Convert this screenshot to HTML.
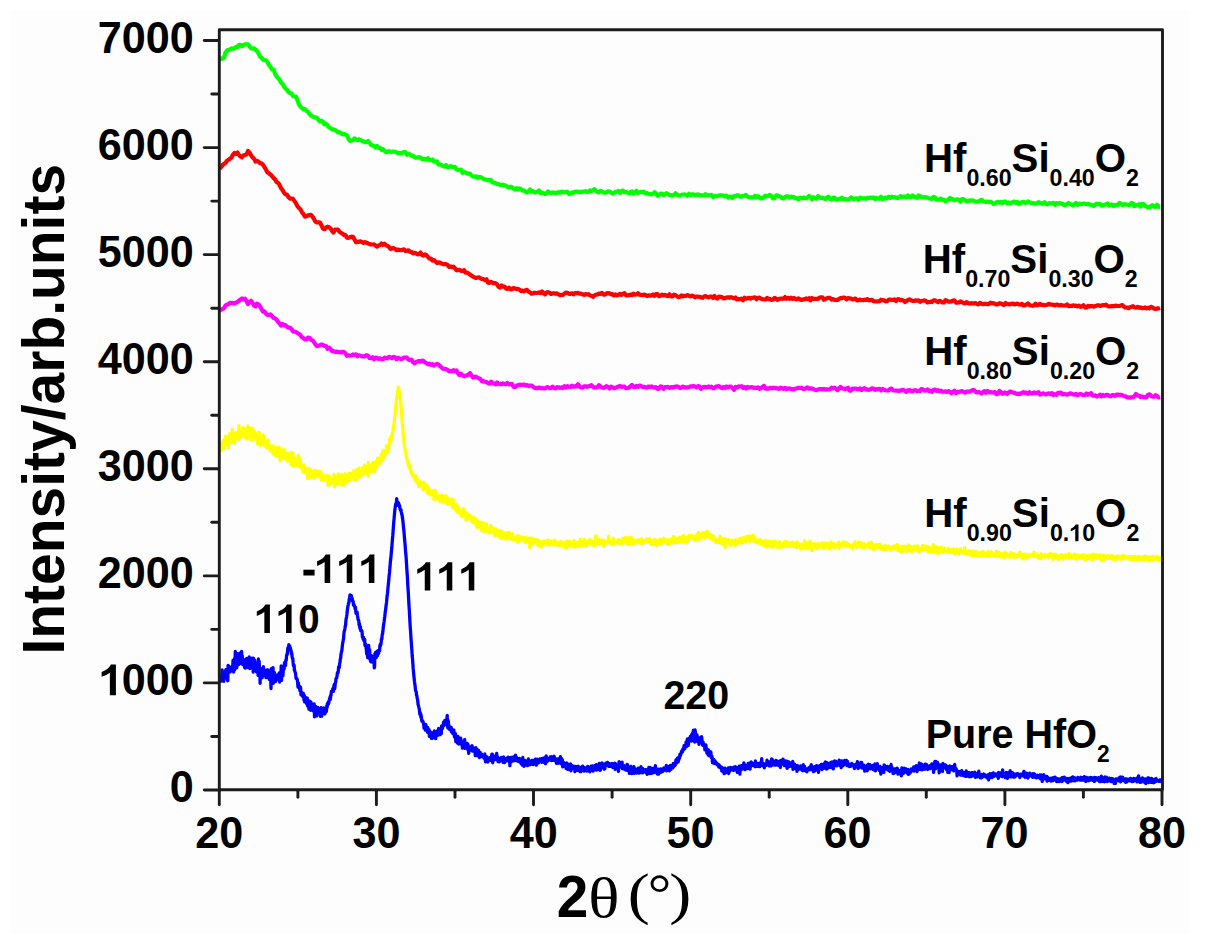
<!DOCTYPE html>
<html><head><meta charset="utf-8"><style>
html,body{margin:0;padding:0;background:#fff;}
body{width:1208px;height:947px;overflow:hidden;}
svg{display:block;}
text{font-family:"Liberation Sans",sans-serif;font-weight:bold;fill:#000;}
</style></head><body>
<svg width="1208" height="947" viewBox="0 0 1208 947">
<rect x="0" y="0" width="1208" height="947" fill="#ffffff"/>
<rect x="10" y="11" width="1180" height="922" fill="#fdfdfd"/>
<g fill="none" stroke-linejoin="round">
<path d="M219.5 57.1l1.5 1.8 1.5 -0.2 1.5 -0.9 1.5 -5.1 1.5 -2.2 1.5 -0.7 1.5 -0.1 1.5 -1.3 1.5 0.3 1.5 -0.6 1.5 -1.2 1.5 0.1 1.5 -2.1 1.5 -0.1 1.5 1.4 1.5 -1.3 1.5 -0.6 1.5 0 1.5 0.1 1.5 1.9 1.5 2 1.5 0.4 1.5 -0.4 1.5 1.4 1.5 1.2 1.5 2.7 1.5 2.8 1.5 1.4 1.5 2 1.5 0.3 1.5 0.2 1.5 1.9 1.5 2.8 1.5 2 1.5 2.5 1.5 0.1 1.5 4 1.5 2.6 1.5 2 1.5 1.1 1.5 3.2 1.5 1.3 1.5 2.8 1.5 1.9 1.5 1.3 1.5 2.2 1.5 1.2 1.5 0.1 1.5 2.7 1.5 0.6 1.5 -0.1 1.5 3.8 1.5 4.2 1.5 2 1.5 1.7 1.5 1.2 1.5 -0.2 1.5 1.8 1.5 0.9 1.5 2 1.5 1.7 1.5 0.7 1.5 1 1.5 0 1.5 0.6 1.5 2.1 1.5 1.3 1.5 -0.6 1.5 1.1 1.5 2.5 1.5 -0.6 1.5 1.4 1.5 2.2 1.5 1 1.5 0.9 1.5 0.2 1.5 0.6 1.5 1 1.5 1.3 1.5 -0.2 1.5 1.1 1.5 1.2 1.5 -0.6 1.5 0.9 1.5 0.7 1.5 3.3 1.5 2.2 1.5 -0.5 1.5 -0.2 1.5 -1.7 1.5 0.7 1.5 0.9 1.5 -0.9 1.5 0.9 1.5 1 1.5 0.2 1.5 0.9 1.5 -0.1 1.5 -1.1 1.5 1.6 1.5 2.2 1.5 0.4 1.5 0.9 1.5 1.4 1.5 -1.5 1.5 1.9 1.5 -0.2 1.5 2.2 1.5 -0.8 1.5 1.7 1.5 1.4 1.5 -0.5 1.5 -0.5 1.5 0.6 1.5 0 1.5 -0.3 1.5 0.4 1.5 0.3 1.5 1.1 1.5 -0.5 1.5 0.3 1.5 -0.4 1.5 -0.7 1.5 0.4 1.5 2.3 1.5 -1 1.5 0.9 1.5 1.2 1.5 -0.2 1.5 1.6 1.5 0.4 1.5 -0.3 1.5 0.1 1.5 0 1.5 1.5 1.5 0.2 1.5 -0.2 1.5 0.8 1.5 -1.5 1.5 1.9 1.5 0.1 1.5 -0.7 1.5 2.1 1.5 0.1 1.5 -0.4 1.5 3.2 1.5 -0.1 1.5 0.5 1.5 1 1.5 0.6 1.5 -1.5 1.5 1.9 1.5 -0.1 1.5 -0.7 1.5 1 1.5 -0.3 1.5 0.3 1.5 2.3 1.5 0.6 1.5 0 1.5 -0.3 1.5 3.1 1.5 -0.9 1.5 0.5 1.5 1.2 1.5 0.1 1.5 0 1.5 1.7 1.5 1.1 1.5 0.2 1.5 -0.4 1.5 1.6 1.5 -0.8 1.5 0.1 1.5 0.6 1.5 1.1 1.5 0.7 1.5 0 1.5 0.8 1.5 -0.4 1.5 0.2 1.5 2.3 1.5 0.2 1.5 0.4 1.5 0.8 1.5 0.1 1.5 0.8 1.5 0.1 1.5 0 1.5 0.4 1.5 0.4 1.5 1.3 1.5 0.4 1.5 -0.7 1.5 0.6 1.5 1.5 1.5 0.5 1.5 -1.1 1.5 1.3 1.5 -1.1 1.5 0.7 1.5 1.5 1.5 -0.2 1.5 1.1 1.5 1.1 1.5 -1.1 1.5 -2 1.5 2.2 1.5 -0.6 1.5 1.4 1.5 -0.3 1.5 -0.5 1.5 -1.3 1.5 2.5 1.5 -0.2 1.5 0.5 1.5 0.8 1.5 -0.3 1.5 -2.3 1.5 1.2 1.5 0.4 1.5 -0.5 1.5 0 1.5 0.7 1.5 -0.6 1.5 -0.4 1.5 0.4 1.5 -0.9 1.5 0.1 1.5 0.7 1.5 -0.5 1.5 -0.1 1.5 2.1 1.5 -0.3 1.5 -1.3 1.5 0.2 1.5 -0.9 1.5 -0.1 1.5 0.5 1.5 -0.4 1.5 0.6 1.5 -0.8 1.5 0.2 1.5 -0.6 1.5 0.8 1.5 -0.1 1.5 -1.4 1.5 0.6 1.5 -0.8 1.5 -1.1 1.5 2 1.5 1 1.5 0.3 1.5 -1.6 1.5 0.8 1.5 0.8 1.5 0.3 1.5 -0.4 1.5 -1 1.5 0.2 1.5 1 1.5 0.9 1.5 -0.5 1.5 -1.1 1.5 -0.1 1.5 -0.7 1.5 1.8 1.5 -1.8 1.5 -0.4 1.5 1.6 1.5 -0.3 1.5 0.8 1.5 0.7 1.5 -1.5 1.5 -0.5 1.5 2 1.5 -1.3 1.5 -1.3 1.5 2.4 1.5 -0.8 1.5 -0.6 1.5 0.3 1.5 -0.4 1.5 1.6 1.5 -0.1 1.5 0.5 1.5 0.3 1.5 0.5 1.5 -0.8 1.5 -1.5 1.5 1 1.5 2.5 1.5 -1 1.5 -0.8 1.5 -0.4 1.5 1.6 1.5 -0.9 1.5 -1 1.5 1 1.5 0.8 1.5 0.2 1.5 0.2 1.5 -0.4 1.5 -1.7 1.5 1.1 1.5 1 1.5 0.1 1.5 -0.7 1.5 -0.3 1.5 -0.1 1.5 0.3 1.5 1 1.5 -1.9 1.5 1.3 1.5 -0.7 1.5 -0.1 1.5 0.8 1.5 -0.4 1.5 -0.3 1.5 0.7 1.5 0.3 1.5 0 1.5 0 1.5 -1.3 1.5 1.2 1.5 0 1.5 -0.3 1.5 -0.1 1.5 2.1 1.5 -1.2 1.5 0.4 1.5 -0.3 1.5 -0.5 1.5 -0.1 1.5 0.1 1.5 0.1 1.5 1.1 1.5 -1 1.5 1.9 1.5 -1 1.5 0.1 1.5 1.4 1.5 -1.9 1.5 0.2 1.5 -0.9 1.5 0 1.5 1.3 1.5 -0.1 1.5 -0.7 1.5 -0.2 1.5 -0.7 1.5 1.6 1.5 0.7 1.5 0 1.5 0.1 1.5 -0.3 1.5 -1.3 1.5 1.7 1.5 -1.3 1.5 1.3 1.5 1 1.5 -0.4 1.5 -1 1.5 -1.5 1.5 0.7 1.5 -0.5 1.5 -1 1.5 1.3 1.5 2.2 1.5 -0.2 1.5 -2.5 1.5 -0.2 1.5 0.9 1.5 0.3 1.5 1.5 1.5 0.5 1.5 -1.6 1.5 -0.6 1.5 0 1.5 1.3 1.5 -1.1 1.5 0.3 1.5 0.2 1.5 1.3 1.5 -0.2 1.5 0.9 1.5 -1.4 1.5 0.8 1.5 -0.7 1.5 -0.2 1.5 0.7 1.5 -0.8 1.5 -1.5 1.5 1.1 1.5 2.1 1.5 -2 1.5 1.1 1.5 0.3 1.5 -2.5 1.5 1.2 1.5 0.7 1.5 -0.5 1.5 1 1.5 0.6 1.5 -1.5 1.5 -0.9 1.5 2.2 1.5 0.7 1.5 -1.7 1.5 -0.3 1.5 1.9 1.5 0.1 1.5 -0.8 1.5 0.1 1.5 -1.2 1.5 1.5 1.5 -0.2 1.5 0.3 1.5 0.2 1.5 -0.7 1.5 -1.3 1.5 1 1.5 0.8 1.5 -1 1.5 0 1.5 1.4 1.5 -2 1.5 0.4 1.5 0.4 1.5 -0.2 1.5 0.6 1.5 -1.1 1.5 0.1 1.5 -0.4 1.5 0.6 1.5 -0.6 1.5 1.6 1.5 -1.2 1.5 0.5 1.5 0.4 1.5 -2.1 1.5 2.4 1.5 -0.6 1.5 -0.8 1.5 0.6 1.5 -1.5 1.5 1.1 1.5 -1.3 1.5 0.6 1.5 0 1.5 0.4 1.5 0.4 1.5 -0.7 1.5 -1.2 1.5 0.9 1.5 -0.5 1.5 0.2 1.5 0.6 1.5 -1.8 1.5 1.7 1.5 -0.1 1.5 -1.7 1.5 1.4 1.5 0.5 1.5 0.5 1.5 -2.3 1.5 0.5 1.5 1.2 1.5 0.1 1.5 -0.3 1.5 0.3 1.5 0.3 1.5 0.6 1.5 0.4 1.5 0.2 1.5 -2 1.5 0.7 1.5 2.2 1.5 -0.1 1.5 -0.1 1.5 -0.9 1.5 1.5 1.5 -0.4 1.5 1.5 1.5 -0.6 1.5 -1.3 1.5 -1.4 1.5 1.4 1.5 -0.1 1.5 1.2 1.5 -0.6 1.5 -0.4 1.5 0.4 1.5 1.9 1.5 -2.7 1.5 0.1 1.5 1.1 1.5 1.2 1.5 -0.4 1.5 -0.6 1.5 0.3 1.5 -0.4 1.5 0.7 1.5 0.6 1.5 -0.1 1.5 0.1 1.5 -1.1 1.5 -0.7 1.5 1.6 1.5 0.1 1.5 0.4 1.5 -0.4 1.5 0.7 1.5 -0.5 1.5 0.8 1.5 1.3 1.5 -0.1 1.5 -1.5 1.5 -0.3 1.5 0.7 1.5 -0.8 1.5 1.2 1.5 -1.4 1.5 0.1 1.5 1.7 1.5 -1 1.5 1 1.5 -0.9 1.5 -0.4 1.5 -0.5 1.5 1.4 1.5 -1 1.5 1.9 1.5 -0.8 1.5 -1 1.5 -0.3 1.5 1.1 1.5 -0.2 1.5 -1.3 1.5 0.9 1.5 0.6 1.5 0.2 1.5 0.2 1.5 0.4 1.5 -0.4 1.5 -1.1 1.5 0.8 1.5 0.3 1.5 0.6 1.5 -1.6 1.5 1.5 1.5 0.5 1.5 -1.1 1.5 0.1 1.5 0 1.5 -0.5 1.5 2 1.5 -1.6 1.5 0.3 1.5 -0.6 1.5 0.9 1.5 -0.2 1.5 1.5 1.5 -0.2 1.5 -0.8 1.5 -1.1 1.5 0.8 1.5 0.9 1.5 0.7 1.5 -1.5 1.5 -1 1.5 1.8 1.5 -1.1 1.5 0.3 1.5 0.1 1.5 -0.5 1.5 0.4 1.5 0.3 1.5 -0.3 1.5 0.7 1.5 -0.1 1.5 1.1 1.5 0.2 1.5 -1.6 1.5 -0.5 1.5 0.6 1.5 -0.4 1.5 1.8 1.5 -0.3 1.5 -0.7 1.5 -0.4 1.5 -0.8 1.5 2.1 1.5 -1 1.5 -0.1 1.5 1.5 1.5 -1.1 1.5 0.2 1.5 -0.2 1.5 -2.1 1.5 0.8 1.5 1.5 1.5 -0.9 1.5 0.1 1.5 0.2 1.5 0.4 1.5 -0.3 1.5 -1.7 1.5 0.6 1.5 2.7 1.5 -1.1 1.5 0.1 1.5 -1 1.5 2.3 1.5 -2.6 1.5 0.1 1.5 1.8 1.5 0.7 1.5 1 1.5 -0.1 1.5 -1.3 1.5 -0.9 1.5 1.4 1.5 0.2 1.5 -2.1 1.5 2.1 1.5 -0.1" stroke="#00ff00" stroke-width="4.2"/>
<path d="M219.5 168.7l1.5 -1.4 1.5 -2.1 1.5 -1.3 1.5 -0.9 1.5 -2.3 1.5 -0.9 1.5 -1.2 1.5 -1.1 1.5 -2.9 1.5 -1.6 1.5 0.8 1.5 -1.3 1.5 2.5 1.5 1.5 1.5 0.9 1.5 -2.1 1.5 -0.3 1.5 -0.7 1.5 -3.3 1.5 1.5 1.5 2.6 1.5 2.3 1.5 1.2 1.5 2.9 1.5 -0.6 1.5 0.8 1.5 1.4 1.5 0.2 1.5 1.5 1.5 2.4 1.5 2.4 1.5 2.8 1.5 0.9 1.5 1.3 1.5 1.5 1.5 1.9 1.5 1.2 1.5 2.8 1.5 0.8 1.5 2 1.5 3.4 1.5 1.8 1.5 2.6 1.5 1.7 1.5 0.5 1.5 2.2 1.5 1.6 1.5 -0.1 1.5 0.4 1.5 2.2 1.5 2.2 1.5 3.1 1.5 1.6 1.5 1.4 1.5 2.9 1.5 1.8 1.5 2.5 1.5 -0.3 1.5 -0.9 1.5 -0.3 1.5 -0.3 1.5 1.9 1.5 2.3 1.5 2.7 1.5 0.8 1.5 -0.3 1.5 0.4 1.5 2.8 1.5 3.2 1.5 0.6 1.5 -1.6 1.5 -0.9 1.5 0.6 1.5 1.1 1.5 2.4 1.5 1.7 1.5 -2.8 1.5 -0.1 1.5 0 1.5 2.2 1.5 1.1 1.5 0.7 1.5 1.5 1.5 -0.1 1.5 2.7 1.5 0.2 1.5 -0.6 1.5 -0.6 1.5 0.1 1.5 2.8 1.5 2.7 1.5 -0.6 1.5 0.1 1.5 -0.5 1.5 0.8 1.5 0.8 1.5 -0.8 1.5 0.6 1.5 0.7 1.5 0.7 1.5 0.3 1.5 0.1 1.5 -0.1 1.5 1.1 1.5 1.2 1.5 -1.2 1.5 -0.5 1.5 -1.5 1.5 1.3 1.5 -1.1 1.5 1.5 1.5 0.6 1.5 1.2 1.5 1.9 1.5 -0.5 1.5 -0.3 1.5 0.7 1.5 1.4 1.5 -0.7 1.5 0.5 1.5 0.2 1.5 -0.3 1.5 -0.6 1.5 1.7 1.5 -0.2 1.5 -0.5 1.5 1.6 1.5 -0.1 1.5 1.6 1.5 -0.5 1.5 0.4 1.5 1 1.5 -0.2 1.5 -1.6 1.5 2.5 1.5 0.7 1.5 -1.2 1.5 0.7 1.5 1.8 1.5 1.6 1.5 -0.1 1.5 2.1 1.5 -0.5 1.5 1.4 1.5 1.4 1.5 -0.5 1.5 0.2 1.5 0.9 1.5 0.6 1.5 -0.1 1.5 0.1 1.5 0.7 1.5 2.1 1.5 -0.5 1.5 0.8 1.5 -0.6 1.5 1.8 1.5 1.9 1.5 -0.4 1.5 0 1.5 0.9 1.5 0.1 1.5 -0.7 1.5 2.5 1.5 -0.1 1.5 0.8 1.5 1.2 1.5 0.9 1.5 1.1 1.5 0.7 1.5 0.7 1.5 -0.5 1.5 -0.1 1.5 0.9 1.5 0.7 1.5 0.1 1.5 1.1 1.5 -0.9 1.5 3.3 1.5 0.3 1.5 -1.1 1.5 1.1 1.5 0.2 1.5 0.1 1.5 1 1.5 2.6 1.5 0.7 1.5 -2.1 1.5 1.3 1.5 -0.2 1.5 1.9 1.5 0.5 1.5 -1.2 1.5 1.7 1.5 -0.2 1.5 -1.2 1.5 0.6 1.5 0.5 1.5 -0.2 1.5 0.7 1.5 1.3 1.5 -0.2 1.5 0.6 1.5 -1.1 1.5 -0.3 1.5 1.7 1.5 0.7 1.5 1.4 1.5 -0.3 1.5 -0.7 1.5 0.3 1.5 0 1.5 -0.6 1.5 0.7 1.5 -1.7 1.5 1.8 1.5 1.1 1.5 -1.8 1.5 -0.4 1.5 0.6 1.5 1.3 1.5 -0.6 1.5 -0.1 1.5 0.3 1.5 -0.2 1.5 1 1.5 0.7 1.5 -0.2 1.5 -0.1 1.5 -1.3 1.5 -0.9 1.5 0.2 1.5 1.1 1.5 -0.1 1.5 -0.5 1.5 1.1 1.5 -1.4 1.5 0.3 1.5 -0.4 1.5 0.8 1.5 -0.1 1.5 0.8 1.5 0.4 1.5 -0.8 1.5 0.5 1.5 -0.3 1.5 1.3 1.5 0.3 1.5 1 1.5 -1.3 1.5 -0.9 1.5 -0.1 1.5 -0.9 1.5 0.2 1.5 -0.9 1.5 1.7 1.5 0 1.5 -1.2 1.5 -0.3 1.5 0.2 1.5 1.1 1.5 -0.4 1.5 1.5 1.5 -1 1.5 1 1.5 -0.8 1.5 -0.8 1.5 1 1.5 -1.2 1.5 -0.6 1.5 2.2 1.5 0 1.5 -0.1 1.5 -0.6 1.5 0.5 1.5 -1.5 1.5 1.1 1.5 -0.4 1.5 -1.2 1.5 1.6 1.5 0.1 1.5 0.3 1.5 -0.4 1.5 0.2 1.5 1.1 1.5 -0.7 1.5 0.3 1.5 -0.2 1.5 -0.9 1.5 1.4 1.5 -1.8 1.5 0.1 1.5 2 1.5 -0.4 1.5 -1.2 1.5 0.9 1.5 -0.7 1.5 0.9 1.5 0.4 1.5 -1.8 1.5 2 1.5 0.1 1.5 -1.7 1.5 0.6 1.5 1.1 1.5 0.8 1.5 -0.4 1.5 -1.4 1.5 1 1.5 -0.6 1.5 0 1.5 -0.8 1.5 0.9 1.5 0.6 1.5 -1 1.5 0.6 1.5 1.2 1.5 -0.8 1.5 0.2 1.5 0.1 1.5 0.6 1.5 0.4 1.5 -1.3 1.5 -0.4 1.5 0.8 1.5 0.6 1.5 -1 1.5 0.1 1.5 1.2 1.5 -1.9 1.5 2.2 1.5 0.5 1.5 -2 1.5 0.2 1.5 0.2 1.5 1.3 1.5 -0.2 1.5 -0.5 1.5 -0.3 1.5 0.5 1.5 -0.6 1.5 0.5 1.5 0.6 1.5 -0.8 1.5 2 1.5 -0.4 1.5 0 1.5 -0.4 1.5 1.6 1.5 -2.5 1.5 0.8 1.5 -0.4 1.5 -0.4 1.5 0.9 1.5 -0.9 1.5 -0.2 1.5 -0.3 1.5 1.9 1.5 -1.4 1.5 -0.1 1.5 1 1.5 0.4 1.5 0.3 1.5 0 1.5 -1.5 1.5 1.2 1.5 -0.2 1.5 1.1 1.5 -0.3 1.5 -1.9 1.5 0.8 1.5 1.3 1.5 -0.9 1.5 -0.4 1.5 0.1 1.5 0 1.5 -1.6 1.5 1.6 1.5 -0.8 1.5 0.9 1.5 -1.2 1.5 1.2 1.5 -0.8 1.5 1.2 1.5 0.1 1.5 -1 1.5 1.2 1.5 0.5 1.5 -0.6 1.5 0 1.5 -1 1.5 0.8 1.5 -1 1.5 2 1.5 -2.2 1.5 0.8 1.5 0 1.5 0.1 1.5 -0.1 1.5 -1.3 1.5 -0.1 1.5 0 1.5 2.4 1.5 -0.9 1.5 -0.6 1.5 -0.4 1.5 0 1.5 1.7 1.5 -0.6 1.5 0.8 1.5 0.1 1.5 0 1.5 -1 1.5 -0.7 1.5 0 1.5 -0.7 1.5 0.3 1.5 1.6 1.5 -1.3 1.5 0.2 1.5 0.3 1.5 0.7 1.5 -0.2 1.5 -0.5 1.5 1.9 1.5 -0.4 1.5 -0.5 1.5 0.6 1.5 0 1.5 -0.5 1.5 0.4 1.5 -1 1.5 1.2 1.5 -0.1 1.5 -0.4 1.5 1.4 1.5 0.2 1.5 -0.1 1.5 0.1 1.5 -0.3 1.5 -1.4 1.5 0.5 1.5 0.2 1.5 0.9 1.5 -0.1 1.5 -1.4 1.5 -0.3 1.5 0.4 1.5 0.1 1.5 -0.6 1.5 1.6 1.5 -1.7 1.5 -0.1 1.5 1.1 1.5 -0.4 1.5 0.7 1.5 1.5 1.5 -1 1.5 -1.1 1.5 -0.6 1.5 0.8 1.5 0.8 1.5 0 1.5 -0.7 1.5 0.4 1.5 -0.3 1.5 1.4 1.5 -0.8 1.5 -0.3 1.5 -0.3 1.5 0.6 1.5 1.5 1.5 -0.5 1.5 -0.3 1.5 0.2 1.5 -1.5 1.5 -0.1 1.5 0.9 1.5 0.9 1.5 -1.3 1.5 0.6 1.5 1 1.5 0.1 1.5 -2.3 1.5 0.6 1.5 0.8 1.5 0 1.5 -0.2 1.5 -0.9 1.5 -0.1 1.5 2.2 1.5 0 1.5 -0.1 1.5 -1.2 1.5 0.9 1.5 0.8 1.5 0.4 1.5 -1.3 1.5 0.9 1.5 0.7 1.5 -0.5 1.5 0.1 1.5 0 1.5 -0.2 1.5 0.9 1.5 0.4 1.5 -1.6 1.5 1 1.5 0.4 1.5 -0.3 1.5 -0.1 1.5 0.5 1.5 -0.4 1.5 -1.2 1.5 0.5 1.5 0.1 1.5 0.5 1.5 0.7 1.5 -0.2 1.5 -1.1 1.5 0.3 1.5 1 1.5 0.4 1.5 -1.9 1.5 1.2 1.5 0 1.5 0.1 1.5 -0.5 1.5 -0.2 1.5 0.9 1.5 -0.6 1.5 -0.2 1.5 0.8 1.5 0.1 1.5 -0.8 1.5 1.7 1.5 -0.2 1.5 -0.9 1.5 -1 1.5 1.6 1.5 0.5 1.5 0.3 1.5 -0.4 1.5 -1.8 1.5 1.7 1.5 -0.4 1.5 -1.1 1.5 1.2 1.5 -0.1 1.5 0.4 1.5 -0.3 1.5 -0.5 1.5 -0.7 1.5 0.7 1.5 0.1 1.5 0.3 1.5 0.4 1.5 -0.8 1.5 0.3 1.5 0.7 1.5 -0.7 1.5 0.7 1.5 0 1.5 0 1.5 -1.1 1.5 1.8 1.5 -0.3 1.5 0.1 1.5 -0.7 1.5 0.6 1.5 -0.3 1.5 0.8 1.5 -0.8 1.5 1.2 1.5 -0.6 1.5 -1 1.5 2.2 1.5 0.3 1.5 -1.8 1.5 0.7 1.5 -0.5 1.5 0 1.5 0.6 1.5 -0.8 1.5 -0.5 1.5 -0.1 1.5 0.6 1.5 -0.3 1.5 -0.6 1.5 0.2 1.5 -0.5 1.5 1.3 1.5 0.4 1.5 -0.1 1.5 -0.2 1.5 0 1.5 -0.2 1.5 -0.2 1.5 0.3 1.5 0 1.5 -0.6 1.5 -0.2 1.5 1.7 1.5 0.6 1.5 0 1.5 0.7 1.5 -0.9 1.5 -0.5 1.5 -0.6 1.5 1 1.5 0.5 1.5 -0.9 1.5 1 1.5 -0.4 1.5 0.7 1.5 0.1 1.5 -0.8 1.5 1 1.5 -0.6 1.5 0.6 1.5 -1.6 1.5 0.6 1.5 1.3 1.5 0.2 1.5 -0.5 1.5 0.1 1.5 -0.6" stroke="#ff0000" stroke-width="4.2"/>
<path d="M219.5 311.0l1.5 -1.6 1.5 -0.4 1.5 -0.9 1.5 -2.5 1.5 -1 1.5 -0.6 1.5 -1.2 1.5 0.1 1.5 0.2 1.5 0.5 1.5 -1.1 1.5 -0.5 1.5 -1.3 1.5 -1.2 1.5 -1 1.5 1.1 1.5 -0.9 1.5 2.3 1.5 3.1 1.5 -2 1.5 -1.3 1.5 1.9 1.5 2.9 1.5 0.8 1.5 -2.8 1.5 0.7 1.5 2.1 1.5 2.6 1.5 2.6 1.5 -0.3 1.5 2.3 1.5 1.3 1.5 0.1 1.5 -0.6 1.5 1.8 1.5 1.8 1.5 0.3 1.5 1.2 1.5 2.3 1.5 1.5 1.5 2.2 1.5 -1.6 1.5 1.6 1.5 -0.4 1.5 1.6 1.5 1 1.5 0 1.5 1.3 1.5 2.3 1.5 0.2 1.5 0.6 1.5 0.9 1.5 1 1.5 1.2 1.5 2.1 1.5 1 1.5 1.1 1.5 0.1 1.5 -1.8 1.5 0.2 1.5 1.9 1.5 0.6 1.5 1.7 1.5 2.4 1.5 1.7 1.5 -0.4 1.5 -0.6 1.5 -0.7 1.5 0.4 1.5 1.1 1.5 0 1.5 2.8 1.5 -1.1 1.5 1.3 1.5 2.1 1.5 0.1 1.5 0.8 1.5 -0.5 1.5 0.7 1.5 -0.2 1.5 0.4 1.5 -0.5 1.5 0.1 1.5 1.4 1.5 2.5 1.5 -0.6 1.5 0.4 1.5 -0.1 1.5 -1.2 1.5 0.5 1.5 -0.6 1.5 2 1.5 -1 1.5 0.4 1.5 0.7 1.5 -0.1 1.5 0.2 1.5 -1.3 1.5 0.5 1.5 2.3 1.5 0.1 1.5 -0.9 1.5 2 1.5 -1.5 1.5 0.2 1.5 1 1.5 -0.6 1.5 0.9 1.5 0 1.5 -1.6 1.5 0.4 1.5 0.3 1.5 -1.4 1.5 0.3 1.5 1.1 1.5 -1.4 1.5 0.3 1.5 2.1 1.5 -1.5 1.5 0.7 1.5 0.7 1.5 -0.6 1.5 -1.1 1.5 0 1.5 0.2 1.5 1.9 1.5 0.3 1.5 -0.3 1.5 2.6 1.5 1.2 1.5 -1.3 1.5 -0.6 1.5 -0.5 1.5 0.7 1.5 -1 1.5 0.2 1.5 1.6 1.5 0.6 1.5 1.2 1.5 -0.6 1.5 1.1 1.5 -0.6 1.5 1.4 1.5 -1 1.5 -0.7 1.5 0.7 1.5 1.6 1.5 1 1.5 1.5 1.5 0.2 1.5 0.2 1.5 0.8 1.5 1.3 1.5 -0.1 1.5 0.1 1.5 -1.1 1.5 1.5 1.5 -1.1 1.5 2.9 1.5 1.6 1.5 -1.3 1.5 1.7 1.5 0.9 1.5 -0.8 1.5 0 1.5 -1.1 1.5 -1.3 1.5 2.5 1.5 2 1.5 -0.8 1.5 -0.1 1.5 0.9 1.5 0.7 1.5 0.8 1.5 2.3 1.5 -0.2 1.5 0.6 1.5 0.3 1.5 0.9 1.5 0.7 1.5 -2 1.5 1.1 1.5 0.9 1.5 0.7 1.5 -2 1.5 1.6 1.5 -0.3 1.5 0.6 1.5 -0.9 1.5 0.5 1.5 0.3 1.5 -1.2 1.5 1.4 1.5 -0.5 1.5 0.1 1.5 2.7 1.5 0.5 1.5 -1.2 1.5 -1 1.5 -0.3 1.5 0.2 1.5 -0.1 1.5 -0.3 1.5 1 1.5 -0.4 1.5 1 1.5 -0.6 1.5 0 1.5 1.1 1.5 1.1 1.5 0.5 1.5 -0.1 1.5 -0.6 1.5 0.6 1.5 0.1 1.5 0.1 1.5 0.1 1.5 -1 1.5 -0.2 1.5 0.9 1.5 -0.1 1.5 -1.4 1.5 1.4 1.5 0.4 1.5 -1.3 1.5 0.2 1.5 0.6 1.5 -0.5 1.5 0.6 1.5 -1.9 1.5 1.4 1.5 -1.4 1.5 0.7 1.5 0.1 1.5 -1.3 1.5 1.1 1.5 -0.5 1.5 0.3 1.5 -2.2 1.5 2.2 1.5 1.2 1.5 -0.2 1.5 -1.1 1.5 -0.1 1.5 0.6 1.5 -0.7 1.5 -0.3 1.5 -0.8 1.5 1.6 1.5 1 1.5 -0.3 1.5 -0.4 1.5 -1.9 1.5 1.5 1.5 0.8 1.5 0.6 1.5 -1 1.5 -0.8 1.5 0.9 1.5 1.3 1.5 -1.8 1.5 0.8 1.5 0.8 1.5 -0.6 1.5 -0.4 1.5 -0.8 1.5 -0.5 1.5 1 1.5 -0.3 1.5 0.1 1.5 1.5 1.5 -0.2 1.5 -0.3 1.5 -1.6 1.5 -1.2 1.5 1.8 1.5 0.5 1.5 -1.2 1.5 0.9 1.5 -1.4 1.5 0.4 1.5 1 1.5 -0.1 1.5 0.6 1.5 0.3 1.5 -1.2 1.5 0.4 1.5 -0.5 1.5 0.9 1.5 0 1.5 -0.1 1.5 1.6 1.5 -0.1 1.5 -2.3 1.5 0.3 1.5 2.1 1.5 -1.7 1.5 -0.1 1.5 -0.1 1.5 1 1.5 -0.8 1.5 0.5 1.5 -0.8 1.5 0 1.5 -0.4 1.5 0.6 1.5 0.9 1.5 -0.3 1.5 -1 1.5 0.7 1.5 0 1.5 0.1 1.5 -0.3 1.5 -0.8 1.5 0 1.5 -0.2 1.5 0.4 1.5 0.9 1.5 -1.3 1.5 0.5 1.5 2.1 1.5 -1.5 1.5 -0.3 1.5 0.1 1.5 0.4 1.5 -1 1.5 0.8 1.5 -0.5 1.5 1.4 1.5 0 1.5 -1.6 1.5 -0.2 1.5 -0.2 1.5 1.2 1.5 0.9 1.5 -1.2 1.5 0.9 1.5 -1.4 1.5 0.9 1.5 -0.8 1.5 0.1 1.5 1 1.5 2.1 1.5 -2.9 1.5 0.7 1.5 -1.2 1.5 0.1 1.5 -0.3 1.5 1.8 1.5 -0.9 1.5 1.5 1.5 -1.7 1.5 0.9 1.5 -0.5 1.5 -0.3 1.5 0.8 1.5 -0.1 1.5 0.3 1.5 -0.7 1.5 1.6 1.5 -0.6 1.5 -1.5 1.5 -0.9 1.5 2.8 1.5 -0.3 1.5 0.2 1.5 -0.8 1.5 0.4 1.5 -0.4 1.5 0.1 1.5 0.2 1.5 0.3 1.5 0.5 1.5 -1.2 1.5 0.5 1.5 0.6 1.5 -1 1.5 1.4 1.5 -0.6 1.5 -0.3 1.5 0.7 1.5 0.1 1.5 0.4 1.5 -1 1.5 -0.3 1.5 -0.4 1.5 0.2 1.5 -0.3 1.5 1.2 1.5 0 1.5 -0.7 1.5 -0.9 1.5 1.4 1.5 -0.3 1.5 0.2 1.5 0.4 1.5 0.8 1.5 0.3 1.5 -0.5 1.5 -0.6 1.5 0 1.5 0.5 1.5 -0.6 1.5 0.7 1.5 -0.4 1.5 0.3 1.5 -0.3 1.5 -1.5 1.5 0.7 1.5 -0.7 1.5 1 1.5 1.5 1.5 -1.6 1.5 -1.7 1.5 1.4 1.5 0.2 1.5 0.7 1.5 -0.7 1.5 -0.7 1.5 2.8 1.5 0 1.5 -2 1.5 0.2 1.5 -0.3 1.5 0.7 1.5 0 1.5 -0.8 1.5 1.7 1.5 -1.2 1.5 -0.7 1.5 1.4 1.5 -0.2 1.5 0.5 1.5 -0.6 1.5 -1 1.5 0.3 1.5 1.2 1.5 -0.8 1.5 0.4 1.5 -0.6 1.5 1.6 1.5 -1.4 1.5 0.7 1.5 0.5 1.5 0.3 1.5 -0.2 1.5 -1.3 1.5 -0.5 1.5 1.8 1.5 0.2 1.5 0.2 1.5 -0.1 1.5 0.5 1.5 -0.6 1.5 -0.4 1.5 -0.2 1.5 1 1.5 1 1.5 -1.6 1.5 -0.3 1.5 1.2 1.5 0.2 1.5 -1.1 1.5 -0.1 1.5 0.9 1.5 -0.3 1.5 0.2 1.5 -2.1 1.5 0.5 1.5 1.3 1.5 -0.2 1.5 -1.1 1.5 1.6 1.5 -0.3 1.5 1.1 1.5 -1.8 1.5 -0.5 1.5 1.4 1.5 -0.7 1.5 1.1 1.5 -0.6 1.5 1.1 1.5 -0.1 1.5 -0.3 1.5 0.5 1.5 -0.8 1.5 1 1.5 1.1 1.5 -1.5 1.5 -1 1.5 2.5 1.5 -1.4 1.5 0.3 1.5 -0.5 1.5 -0.5 1.5 0.8 1.5 0.8 1.5 -1 1.5 -0.2 1.5 0.2 1.5 -0.7 1.5 -0.8 1.5 0 1.5 1.7 1.5 0.5 1.5 -0.4 1.5 0.7 1.5 0.6 1.5 -1.3 1.5 -0.9 1.5 1.7 1.5 -1.9 1.5 1.4 1.5 -0.1 1.5 0.1 1.5 0.2 1.5 -0.4 1.5 2.1 1.5 -0.4 1.5 -2.9 1.5 1.3 1.5 1.5 1.5 -1.1 1.5 0.1 1.5 1.1 1.5 -1.2 1.5 -1.1 1.5 0.4 1.5 0.6 1.5 0.4 1.5 0.6 1.5 0.5 1.5 -0.4 1.5 0.2 1.5 -0.9 1.5 -0.7 1.5 0.6 1.5 -0.1 1.5 1.2 1.5 -1.6 1.5 1.2 1.5 0 1.5 -1.2 1.5 0.8 1.5 -0.2 1.5 -0.7 1.5 2.3 1.5 -0.5 1.5 -0.7 1.5 0.6 1.5 0.5 1.5 -0.7 1.5 -0.4 1.5 0.8 1.5 -1 1.5 1.9 1.5 -0.9 1.5 0.7 1.5 -1.9 1.5 0 1.5 -0.2 1.5 1.7 1.5 -0.6 1.5 0.4 1.5 0.4 1.5 -0.6 1.5 -0.7 1.5 0.5 1.5 0.5 1.5 0.4 1.5 -0.9 1.5 1.4 1.5 -0.7 1.5 -0.5 1.5 0.6 1.5 0.4 1.5 -0.1 1.5 -1.4 1.5 1.3 1.5 -1 1.5 -0.7 1.5 2.6 1.5 0 1.5 -0.3 1.5 1.1 1.5 -0.6 1.5 -1.3 1.5 1.7 1.5 -1.4 1.5 1 1.5 -1 1.5 -0.1 1.5 1 1.5 0.5 1.5 -1.2 1.5 -0.1 1.5 1 1.5 -1.4 1.5 -0.1 1.5 0.6 1.5 -0.3 1.5 0.5 1.5 0.9 1.5 0.2 1.5 0.9 1.5 0 1.5 0.3 1.5 -0.3 1.5 -0.2 1.5 -0.9 1.5 -2.3 1.5 1.6 1.5 0 1.5 1.7 1.5 -0.6 1.5 0.5 1.5 0 1.5 0.2 1.5 -2.6 1.5 -0.3 1.5 1.3 1.5 0.9 1.5 0 1.5 -1.4 1.5 0.7 1.5 1.5 1.5 -0.5" stroke="#ff00ff" stroke-width="4.2"/>
<path d="M219.5 449.6l0.3 2 0.4 -3.2 0.3 -0.6 0.3 -3.3 0.4 5.8 0.3 -6.6 0.3 4.5 0.3 -6.2 0.4 7.3 0.3 -6.8 0.3 5.4 0.4 -7.8 0.3 3.2 0.3 4.7 0.4 -6.4 0.3 2.4 0.3 -2 0.3 -6 0.4 7.9 0.3 0.1 0.3 -5.2 0.4 5.1 0.3 -4.6 0.3 -1 0.4 3 0.3 -2.5 0.3 9.4 0.3 -12.7 0.4 7.2 0.3 0.6 0.3 -9.9 0.4 0.5 0.3 7.4 0.3 -3.7 0.4 2.7 0.3 2.3 0.3 -5.2 0.3 -2.5 0.4 -5.7 0.3 9.6 0.3 -4 0.4 4 0.3 -0.4 0.3 -5.6 0.4 10.3 0.3 -2.3 0.3 -1 0.3 -7 0.4 2.4 0.3 -0.6 0.3 0.3 0.4 -2.6 0.3 5.1 0.3 -0.9 0.4 0.4 0.3 -3.2 0.3 6 0.3 -3.9 0.4 -10.2 0.3 7.1 0.3 1.8 0.4 3.4 0.3 -4.5 0.3 0.1 0.4 -1.6 0.3 4.5 0.3 -4 0.3 -0.6 0.4 -0.6 0.3 4.4 0.3 -3.9 0.4 -4.1 0.3 8 0.3 -4.7 0.4 3.6 0.3 0 0.3 2.9 0.3 -0.6 0.4 -5.7 0.3 1.4 0.3 -4 0.4 10.4 0.3 -4.3 0.3 3.3 0.4 -6 0.3 -6.1 0.3 12.7 0.3 -5 0.4 0.2 0.3 -0.2 0.3 2.1 0.4 -0.3 0.3 -7.3 0.3 9.4 0.4 -5.5 0.3 0.4 0.3 7.7 0.3 -2.7 0.4 -4.2 0.3 -5.1 0.3 7.1 0.4 1.5 0.3 -2 0.3 -3.9 0.4 1.7 0.3 -1.4 0.3 5.2 0.3 2.2 0.4 0.8 0.3 -5.8 0.3 3.4 0.4 1.3 0.3 -3.4 0.3 1.4 0.4 7.8 0.3 -6.3 0.3 2.5 0.3 -4.2 0.4 1.8 0.3 -5.5 0.3 5.8 0.4 4.2 0.3 3.2 0.3 -2.7 0.4 -1.5 0.3 -1.8 0.3 -1.9 0.3 1.7 0.4 2.8 0.3 -4.3 0.3 5.8 0.4 -5.9 0.3 -2.3 0.3 2.7 0.4 -1.9 0.3 1.2 0.3 8.3 0.3 -4 0.4 1.6 0.3 3.2 0.3 0.6 0.4 -5.4 0.3 6.1 0.3 -2.7 0.4 -1 0.3 1.7 0.3 -5.6 0.3 2.3 0.4 2.4 0.3 2.5 0.3 -2.8 0.4 1 0.3 3.7 0.3 1.7 0.4 -1.8 0.3 1.9 0.3 -5 0.3 0.6 0.4 2.2 0.3 -1.7 0.3 -0.5 0.4 7.1 0.3 -5.6 0.3 -2.2 0.4 4.8 0.3 4.5 0.3 -5.4 0.3 3.9 0.4 -5.1 0.3 0 0.3 -0.4 0.4 2 0.3 6.4 0.3 -9.2 0.4 9 0.3 -8.2 0.3 2.7 0.3 3.5 0.4 -0.4 0.3 -0.9 0.3 -5.9 0.4 6.5 0.3 -4.2 0.3 11.5 0.4 -8.6 0.3 1.5 0.3 -4 0.3 2.2 0.4 -2.3 0.3 7.3 0.3 -3.7 0.4 2.7 0.3 -3.7 0.3 0.8 0.4 5.8 0.3 -7 0.3 -2.4 0.3 7.1 0.4 -4.7 0.3 2.4 0.3 4.4 0.4 -5.3 0.3 5.5 0.3 -4.7 0.4 6.9 0.3 -0.3 0.3 -5.5 0.3 0.9 0.4 -1.8 0.3 3.4 0.3 3.1 0.4 -8 0.3 7.6 0.3 -6.9 0.4 1.6 0.3 -2.7 0.3 12.3 0.3 -6.3 0.4 0.8 0.3 -2.7 0.3 5.5 0.4 -9.7 0.3 6.8 0.3 6.9 0.4 -7.8 0.3 1.4 0.3 2.2 0.3 -4.4 0.4 2.7 0.3 3.1 0.3 -2.2 0.4 0.7 0.3 -2 0.3 2.3 0.4 -0.6 0.3 4.4 0.3 -2 0.3 -2.7 0.4 -6.1 0.3 9.5 0.3 0.4 0.4 -4.5 0.3 -2.7 0.3 2.8 0.4 6.1 0.3 -5.1 0.3 2 0.3 2.3 0.4 3 0.3 -2.9 0.3 0.2 0.4 -0.8 0.3 6.2 0.3 -1.1 0.4 -2.7 0.3 -3.1 0.3 2 0.3 4 0.4 -3.2 0.3 4.8 0.3 -1.2 0.4 0.2 0.3 1.3 0.3 -0.2 0.4 -3.6 0.3 1.7 0.3 8 0.3 -10.2 0.4 2.3 0.3 4.7 0.3 -3.5 0.4 -1.7 0.3 -1.4 0.3 5.6 0.4 1.6 0.3 1.2 0.3 -3.8 0.3 3.1 0.4 -6 0.3 3.6 0.3 -2.3 0.4 2.6 0.3 1.8 0.3 1 0.4 -5.9 0.3 6.7 0.3 -5 0.3 -1.5 0.4 2.6 0.3 -3.7 0.3 4.4 0.4 1 0.3 -1.4 0.3 2.3 0.4 -2.4 0.3 1 0.3 -4.2 0.3 4.5 0.4 -2.5 0.3 1.2 0.3 1.2 0.4 0.9 0.3 -5.3 0.3 0.3 0.4 3.8 0.3 2.4 0.3 -0.3 0.3 1.7 0.4 1.2 0.3 -2.2 0.3 -1.4 0.4 -2.8 0.3 0.3 0.3 1.5 0.4 2.2 0.3 0 0.3 -0.5 0.3 -0.3 0.4 2.4 0.3 -1.1 0.3 0.3 0.4 0.2 0.3 -2.3 0.3 -1.3 0.4 4.5 0.3 -0.1 0.3 -1.7 0.3 -0.4 0.4 7.8 0.3 -8.6 0.3 1.7 0.4 1.5 0.3 -4 0.3 3.8 0.4 4.9 0.3 -2.4 0.3 -0.8 0.3 0 0.4 -1.3 0.3 2.5 0.3 -3.2 0.4 -0.7 0.3 1.6 0.3 2.3 0.4 -1.6 0.3 1 0.3 -7.7 0.3 9.2 0.4 3.3 0.3 -2.9 0.3 -4.8 0.4 -1.5 0.3 3.2 0.3 -3.7 0.4 4.9 0.3 -3.7 0.3 4.3 0.3 1.1 0.4 -9.9 0.3 6.6 0.3 -2.9 0.4 -2.1 0.3 2.2 0.3 1 0.4 3.5 0.3 -7.4 0.3 7.3 0.3 2.7 0.4 -4.2 0.3 -0.3 0.3 -1.7 0.4 -3.4 0.3 4.8 0.3 -0.5 0.4 0.8 0.3 5.2 0.3 -5.4 0.3 -1 0.4 3.2 0.3 -8.5 0.3 0.5 0.4 2.1 0.3 -0.9 0.3 3.8 0.4 -3 0.3 5.8 0.3 -0.7 0.3 -2.3 0.4 -3.4 0.3 2.8 0.3 0.5 0.4 -5.6 0.3 4 0.3 1 0.4 -1.5 0.3 3.8 0.3 -1.1 0.3 -6.1 0.4 2.7 0.3 -2.9 0.3 4.1 0.4 -4.4 0.3 5.2 0.3 -1.7 0.4 1.6 0.3 -3.4 0.3 -3.9 0.3 9.3 0.4 -5.7 0.3 4.4 0.3 -2.9 0.4 0.6 0.3 3.3 0.3 -4.5 0.4 3 0.3 -8.5 0.3 6.8 0.3 -3.4 0.4 0.2 0.3 0.3 0.3 0.9 0.4 3.7 0.3 -10.4 0.3 5.4 0.4 -2.3 0.3 5.4 0.3 -4.8 0.3 2.4 0.4 -2.6 0.3 3 0.3 0.9 0.4 -4.3 0.3 1.2 0.3 -4.5 0.4 5 0.3 1.4 0.3 -4.3 0.3 4.8 0.4 -9.5 0.3 0.5 0.3 1.2 0.4 2.5 0.3 1.4 0.3 -0.5 0.4 -0.1 0.3 2.2 0.3 -3.7 0.3 -2.5 0.4 -0.1 0.3 9.7 0.3 -13.3 0.4 6.2 0.3 4.7 0.3 -3.1 0.4 -4 0.3 2.2 0.3 2.4 0.3 0.8 0.4 -6.4 0.3 4.7 0.3 -1.7 0.4 2.3 0.3 0.6 0.3 -5.3 0.4 -3.5 0.3 5.2 0.3 3.8 0.3 -3.5 0.4 -1.5 0.3 6 0.3 -10.2 0.4 5.3 0.3 -4.5 0.3 1.5 0.4 -0.2 0.3 3.8 0.3 -7.3 0.3 0.8 0.4 -3.3 0.3 5.6 0.3 -3 0.4 2.1 0.3 -4.5 0.3 1.6 0.4 3.6 0.3 -3.8 0.3 1.9 0.3 -0.7 0.4 -2.8 0.3 -3.7 0.3 6.6 0.4 -2.7 0.3 1.8 0.3 -8.5 0.4 0.6 0.3 -1.8 0.3 2.9 0.3 4.5 0.4 -1.7 0.3 -2.1 0.3 -0.1 0.4 1.1 0.3 -3.2 0.3 1.1 0.4 -1.2 0.3 -6.2 0.3 3.8 0.3 3.5 0.4 -4.8 0.3 -0.1 0.3 -1.7 0.4 -0.4 0.3 2.9 0.3 -3.8 0.4 -2.2 0.3 -4.6 0.3 3.8 0.3 -3.1 0.4 -0.7 0.3 2.4 0.3 -1.5 0.4 -4.3 0.3 1.3 0.3 -2 0.4 -2.8 0.3 -0.7 0.3 -3.7 0.3 -1.6 0.4 -2.3 0.3 -2.7 0.3 -2.6 0.4 -4.1 0.3 -3.5 0.3 -3.4 0.4 -2.9 0.3 -3 0.3 -1.9 0.3 -3.1 0.4 -2.7 0.3 -1.9 0.3 -1.3 0.4 -2.8 0.3 2.5 0.3 2 0.4 -0.3 0.3 2.5 0.3 2.9 0.3 1.9 0.4 2.8 0.3 3.6 0.3 4.6 0.4 4.8 0.3 4.6 0.3 4.5 0.4 4.1 0.3 3.6 0.3 3.2 0.3 4 0.4 3.4 0.3 3.3 0.3 2.3 0.4 1.8 0.3 2 0.3 0.8 0.4 3.1 0.3 1.1 0.3 2.5 0.3 -0.1 0.4 1.9 0.3 0.6 0.3 1 0.4 3.5 0.3 -0.7 0.3 2.4 0.4 -1.8 0.3 3 0.3 -2.7 0.3 3.1 0.4 0.6 0.3 2.9 0.3 -0.2 0.4 -0.1 0.3 2.8 0.3 -0.8 0.4 1.3 0.3 1.1 0.3 -1.4 0.3 0 0.4 2 0.3 -1.3 0.3 2.4 0.4 2.2 0.3 -0.2 0.3 -2.6 0.4 -1.8 0.3 3.4 0.3 0.2 0.3 3.5 0.4 -3.4 0.3 0.9 0.3 2.7 0.4 -2.7 0.3 1.2 0.3 5.1 0.4 -0.2 0.3 -1.9 0.3 -0.6 0.3 -2.9 0.4 4.3 0.3 -1 0.3 0.7 0.4 -1.6 0.3 1.6 0.3 -0.2 0.4 1.6 0.3 3.2 0.3 -2.5 0.3 -5 0.4 2.1 0.3 -1.4 0.3 2.3 0.4 3.8 0.3 -0.2 0.3 -2.3 0.4 2.5 0.3 -2.4 0.3 -1.4 0.3 0.3 0.4 1.6 0.3 6.1 0.3 -6.8 0.4 6.9 0.3 0.4 0.3 -3.6 0.4 0.6 0.3 -1.2 0.3 1.8 0.3 1.9 0.4 -1.4 0.3 2.8 0.3 0.7 0.4 -1.9 0.3 0.2 0.3 -0.8 0.4 1.3 0.3 -3.5 0.3 4.1 0.3 -0.3 0.4 -2.5 0.3 7.8 0.3 -7.7 0.4 0.5 0.3 3.1 0.3 -5.4 0.4 3.1 0.3 -1.7 0.3 1.6 0.3 2.3 0.4 1.4 0.3 2.1 0.3 -0.5 0.4 1.1 0.3 -1.3 0.3 -2.5 0.4 4.1 0.3 -3.9 0.3 -0.1 0.3 5.6 0.4 -1.7 0.3 -1.3 0.3 1.5 0.4 0.5 0.3 -5.5 0.3 3.3 0.4 -2.5 0.3 3.4 0.3 -1.8 0.3 5.2 0.4 -1.9 0.3 -3.2 0.3 2.1 0.4 -2.8 0.3 3.3 0.3 1.4 0.4 -0.5 0.3 -5.3 0.3 4.1 0.3 2.3 0.4 -0.4 0.3 2.3 0.3 -6 0.4 4.7 0.3 -2.8 0.3 2.3 0.4 0.6 0.3 0.9 0.3 -3 0.3 2 0.4 -3.1 0.3 -0.5 0.3 5 0.4 -1.3 0.3 -3.6 0.3 2 0.4 2.3 0.3 3.9 0.3 -1.1 0.3 -0.4 0.4 -5.9 0.3 4.2 0.3 1.6 0.4 0.1 0.3 0.3 0.3 -1.3 0.4 4.8 0.3 -0.3 0.3 -3.3 0.3 -1.7 0.4 7.1 0.3 -5.5 0.3 4.2 0.4 1.9 0.3 -5.9 0.3 3 0.4 -1.1 0.3 2.2 0.3 -0.1 0.3 3.9 0.4 -2.6 0.3 -1 0.3 2.8 0.4 -2.7 0.3 0.1 0.3 5.9 0.4 -6.3 0.3 1 0.3 1.4 0.3 -2.1 0.4 -2 0.3 7.1 0.3 -3.7 0.4 0.8 0.3 0.7 0.3 -1.1 0.4 0.1 0.3 2.9 0.3 5.1 0.3 -3.3 0.4 0.3 0.3 -4.6 0.3 3.4 0.4 -2.1 0.3 4.4 0.3 -1.9 0.4 0.8 0.3 0 0.3 -0.8 0.3 -1.7 0.4 4.7 0.3 -3.9 0.3 0.7 0.4 2.1 0.3 -0.6 0.3 2.2 0.4 1.8 0.3 -1.3 0.3 0.1 0.3 -0.1 0.4 2 0.3 -5.3 0.3 4.8 0.4 -2.4 0.3 -0.4 0.3 2.8 0.4 -0.6 0.3 2.2 0.3 1.3 0.3 -6.7 0.4 4.8 0.3 4.3 0.3 -2 0.4 1.4 0.3 -2.5 0.3 -2.9 0.4 0.8 0.3 4 0.3 0.6 0.3 -3.2 0.4 1.2 0.3 1.2 0.3 -3.9 0.4 3 0.3 4.2 0.3 1.3 0.4 -4.4 0.3 4 0.3 -4.5 0.3 -0.4 0.4 -2.7 0.3 6.5 0.3 -2.5 0.4 5.6 0.3 -3.9 0.3 -0.1 0.4 -3.8 0.3 6.7 0.3 -3.5 0.3 0.5 0.4 -3.9 0.3 6.4 0.3 0.3 0.4 -3 0.3 1.5 0.3 0.7 0.4 1.3 0.3 -1.6 0.3 3.4 0.3 -3.7 0.4 -0.6 0.3 0.4 0.3 -3.9 0.4 3.5 0.3 3.7 0.3 -1.3 0.4 -2 0.3 2.4 0.3 -4.4 0.3 3.5 0.4 1.7 0.3 0.4 0.3 -2.7 0.4 3.4 0.3 2 0.3 -4.3 0.4 2.4 0.3 -4.3 0.3 -0.7 0.3 5.1 0.4 -1 0.3 0.4 0.3 -1.4 0.4 0.7 0.3 2.2 0.3 1.8 0.4 -3.5 0.3 -2.6 0.3 5.6 0.3 -1.2 0.4 0.3 0.3 -0.9 0.3 4.2 0.4 -4.2 0.3 1 0.3 -4.4 0.4 2.5 0.3 -0.1 0.3 1.3 0.3 0.8 0.4 -1.9 0.3 4.7 0.3 -5.1 0.4 1.2 0.3 1.4 0.3 -2.7 0.4 3.5 0.3 0.2 0.3 -1.6 0.3 4.1 0.4 -3.3 0.3 0.5 0.3 -2.2 0.4 -1.2 0.3 2 0.3 0.7 0.4 -0.2 0.3 2.4 0.3 -5.7 0.3 2.3 0.4 -1.1 0.3 5.9 0.3 -3.4 0.4 0.1 0.3 -0.9 0.3 3.7 0.4 -2.3 0.3 1.2 0.3 -4 0.3 5.9 0.4 -1.3 0.3 0.4 0.3 1.3 0.4 -2.5 0.3 0.1 0.3 1.7 0.4 -0.5 0.3 -1.1 0.3 0.6 0.3 -1 0.4 2.3 0.3 0.5 0.3 -1.6 0.4 3.4 0.3 -6.1 0.3 2.4 0.4 3.6 0.3 -3.8 0.3 -2 0.3 5.4 0.4 -1.4 0.3 -3.1 0.3 3.6 0.4 -3.1 0.3 -0.5 0.3 2.1 0.4 -0.5 0.3 -1 0.3 1.3 0.3 -1.1 0.4 2 0.3 -0.1 0.3 1.4 0.4 -2.1 0.3 -1.5 0.3 0.1 0.4 1.9 0.3 3.2 0.3 -1.1 0.3 -2.6 0.4 2.8 0.3 -3.7 0.3 3.9 0.4 -2.4 0.3 2.1 0.3 -0.3 0.4 -1.5 0.3 1.1 0.3 -2.4 0.3 1.8 0.4 2.1 0.3 5.3 0.3 -5.9 0.4 -1 0.3 -1.9 0.3 3.7 0.4 -4.7 0.3 1.5 0.3 2.1 0.3 -2.6 0.4 4.8 0.3 -0.7 0.3 -2.8 0.4 0.2 0.3 -1.2 0.3 -0.1 0.4 3.3 0.3 0.4 0.3 -0.4 0.3 0 0.4 -1.3 0.3 1.7 0.3 -3 0.4 2.6 0.3 2.6 0.3 -0.2 0.4 -2.9 0.3 0.3 0.3 3 0.3 0.7 0.4 -5.4 0.3 1.8 0.3 1.2 0.4 1.7 0.3 -3.5 0.3 2.5 0.4 -1.5 0.3 4.5 0.3 -3.3 0.3 -0.9 0.4 -0.3 0.3 2.3 0.3 -0.6 0.4 -3 0.3 2.2 0.3 -2.6 0.4 1 0.3 -0.9 0.3 0 0.3 1.1 0.4 -0.5 0.3 2.5 0.3 0.5 0.4 -1.7 0.3 -1.5 0.3 3.2 0.4 -4.7 0.3 0.1 0.3 4.5 0.3 -0.1 0.4 0.6 0.3 -2 0.3 -1.8 0.4 1.3 0.3 1.8 0.3 -2.2 0.4 0.1 0.3 -1.1 0.3 0.4 0.3 3.4 0.4 -0.7 0.3 -2.7 0.3 0.2 0.4 0.9 0.3 1.8 0.3 -2.8 0.4 1.7 0.3 -3.3 0.3 1.5 0.3 2.8 0.4 0.8 0.3 -3.4 0.3 0.6 0.4 2.7 0.3 -2 0.3 -0.2 0.4 1.8 0.3 -0.6 0.3 1.6 0.3 -0.5 0.4 -2.3 0.3 0.8 0.3 0.1 0.4 -2.2 0.3 0.7 0.3 3.2 0.4 -4.2 0.3 4.3 0.3 -1.2 0.3 -0.7 0.4 1.2 0.3 -0.1 0.3 1.2 0.4 -2.7 0.3 0.3 0.3 0 0.4 3.6 0.3 -1.6 0.3 -3.1 0.3 1 0.4 -0.6 0.3 1.2 0.3 0.3 0.4 3.5 0.3 -6.9 0.3 4.7 0.4 -0.9 0.3 -1.9 0.3 0.9 0.3 -0.6 0.4 0.9 0.3 1.6 0.3 -4.2 0.4 4.7 0.3 -2.9 0.3 3.2 0.4 -1.9 0.3 1.4 0.3 -1.1 0.3 0.8 0.4 -1.7 0.3 -1.5 0.3 2.5 0.4 0 0.3 2.3 0.3 -6.8 0.4 3 0.3 2.1 0.3 -3.9 0.3 1.7 0.4 3.9 0.3 -1.2 0.3 -3.9 0.4 3.8 0.3 -0.4 0.3 -0.7 0.4 -0.7 0.3 -0.2 0.3 -1.9 0.3 0.6 0.4 2 0.3 -1 0.3 2.9 0.4 -3.7 0.3 -3.5 0.3 3.4 0.4 1 0.3 0.2 0.3 -0.6 0.3 -1.5 0.4 3.9 0.3 -3.7 0.3 2.3 0.4 -1.7 0.3 -1.5 0.3 4.3 0.4 -6.6 0.3 2.8 0.3 2.1 0.3 -1.3 0.4 1.8 0.3 -1.5 0.3 -0.6 0.4 4.4 0.3 -4.1 0.3 0.1 0.4 -1.6 0.3 0.5 0.3 2.3 0.3 -0.1 0.4 -1 0.3 -1.3 0.3 2.3 0.4 -4.1 0.3 2.3 0.3 0.1 0.4 -1 0.3 1.6 0.3 -1.4 0.3 -0.3 0.4 4.4 0.3 -1.8 0.3 0.7 0.4 -2 0.3 1.5 0.3 -0.3 0.4 0.7 0.3 1.9 0.3 -4.5 0.3 0.8 0.4 -0.5 0.3 -6 0.3 3.6 0.4 2.4 0.3 1 0.3 -2.1 0.4 2.9 0.3 0.2 0.3 -2.9 0.3 3.1 0.4 0.6 0.3 -2.2 0.3 -2.6 0.4 4.3 0.3 -2.9 0.3 -0.3 0.4 0.8 0.3 -1.1 0.3 2.8 0.3 -0.6 0.4 0.8 0.3 -1.1 0.3 -2.4 0.4 1.1 0.3 1.8 0.3 -2.2 0.4 5.8 0.3 -5.5 0.3 -0.6 0.3 3 0.4 -0.7 0.3 -1.3 0.3 -0.3 0.4 1.1 0.3 0.7 0.3 -0.1 0.4 -1.8 0.3 1.2 0.3 0.8 0.3 -0.2 0.4 -6.6 0.3 3.8 0.3 0.2 0.4 0.9 0.3 0.8 0.3 1.2 0.4 -0.5 0.3 -1.2 0.3 0.2 0.3 3 0.4 -4.1 0.3 1.6 0.3 2.2 0.4 -2.1 0.3 -4.1 0.3 4.2 0.4 -1.3 0.3 0.5 0.3 2 0.3 -1 0.4 -1.3 0.3 2 0.3 -0.8 0.4 -0.5 0.3 0.3 0.3 -0.1 0.4 -1 0.3 -0.2 0.3 0.8 0.3 -1.6 0.4 -0.6 0.3 4.4 0.3 -2.6 0.4 0.4 0.3 -0.2 0.3 0.2 0.4 0 0.3 0.1 0.3 -1.5 0.3 3 0.4 -2.8 0.3 2.9 0.3 -5.1 0.4 1.5 0.3 3.5 0.3 -1.9 0.4 -1 0.3 1.8 0.3 -2.4 0.3 1.9 0.4 -4 0.3 3.1 0.3 -0.4 0.4 2 0.3 0.6 0.3 -3 0.4 4.2 0.3 -3.8 0.3 -2.5 0.3 -0.6 0.4 6.8 0.3 -2.8 0.3 -1 0.4 -0.2 0.3 -0.6 0.3 4.2 0.4 -2.5 0.3 3.2 0.3 -3.4 0.3 -3.7 0.4 5.5 0.3 -2.1 0.3 0.2 0.4 3.1 0.3 -3.2 0.3 2.5 0.4 -2 0.3 -1.3 0.3 2.2 0.3 -1.9 0.4 3.1 0.3 -0.4 0.3 -1.6 0.4 1 0.3 -0.1 0.3 -1.5 0.4 2 0.3 -1.9 0.3 1.5 0.3 -2.7 0.4 1.8 0.3 0.5 0.3 -2.1 0.4 0.7 0.3 -0.2 0.3 2.2 0.4 -2.5 0.3 2 0.3 1.8 0.3 -2 0.4 -3.4 0.3 3 0.3 1.6 0.4 -2.3 0.3 2.4 0.3 -0.8 0.4 -0.4 0.3 -1.1 0.3 -0.5 0.3 0.5 0.4 0.5 0.3 0.8 0.3 -0.2 0.4 -1.2 0.3 0.6 0.3 0.6 0.4 -3.5 0.3 1.5 0.3 -0.1 0.3 1.1 0.4 -0.2 0.3 0.1 0.3 -1.1 0.4 2.7 0.3 -0.7 0.3 -3.3 0.4 2.8 0.3 -1.9 0.3 4.9 0.3 -3.8 0.4 0.1 0.3 0.9 0.3 -0.5 0.4 0.2 0.3 2.8 0.3 -2.3 0.4 1.1 0.3 0.5 0.3 -3.7 0.3 4.7 0.4 -1.8 0.3 0.5 0.3 -3.2 0.4 2.9 0.3 -0.7 0.3 -1.6 0.4 4.9 0.3 -3 0.3 -1.4 0.3 0.8 0.4 1.2 0.3 0.4 0.3 -1 0.4 1.1 0.3 0.5 0.3 -4.7 0.4 1.3 0.3 -0.8 0.3 1.8 0.3 2.3 0.4 -1.4 0.3 -2.9 0.3 1.3 0.4 2.2 0.3 -2.7 0.3 0.8 0.4 0.6 0.3 -3.7 0.3 4.5 0.3 -0.7 0.4 0.3 0.3 -2.7 0.3 0.4 0.4 0.3 0.3 1.4 0.3 -0.3 0.4 0.1 0.3 2.8 0.3 -0.8 0.3 -3.6 0.4 0.1 0.3 4.1 0.3 -3.5 0.4 2.9 0.3 0.4 0.3 -3.8 0.4 0.5 0.3 0.5 0.3 -1.6 0.3 -0.3 0.4 1 0.3 2.2 0.3 -2.3 0.4 0.4 0.3 -0.5 0.3 -1.6 0.4 4.9 0.3 -6.7 0.3 2.9 0.3 2.1 0.4 -3.4 0.3 3.4 0.3 1.1 0.4 -3.7 0.3 1.9 0.3 -2.4 0.4 2.8 0.3 -0.8 0.3 0.2 0.3 2 0.4 -1.6 0.3 1.5 0.3 -1.3 0.4 -3.2 0.3 2.5 0.3 0.4 0.4 -3.5 0.3 4.9 0.3 -2.3 0.3 0.5 0.4 -2.3 0.3 1.7 0.3 0.4 0.4 -1.2 0.3 0.7 0.3 -3.9 0.4 6.1 0.3 -4.4 0.3 -2 0.3 2.1 0.4 0.2 0.3 2.4 0.3 -2.7 0.4 2.1 0.3 -2.3 0.3 5.6 0.4 -3 0.3 2.4 0.3 -5.3 0.3 2.9 0.4 -3 0.3 2.7 0.3 0.1 0.4 -4.2 0.3 0.8 0.3 -0.2 0.4 -0.6 0.3 1.3 0.3 -0.5 0.3 -1 0.4 2.7 0.3 0.8 0.3 -3.5 0.4 1.3 0.3 1 0.3 -0.5 0.4 -1 0.3 2.7 0.3 0 0.3 -0.3 0.4 -1.7 0.3 3.9 0.3 -0.5 0.4 -4 0.3 0.4 0.3 2.3 0.4 -3.7 0.3 2.1 0.3 -0.7 0.3 -1.5 0.4 0.8 0.3 -2.5 0.3 1.8 0.4 -2.8 0.3 7.8 0.3 -1.5 0.4 -0.6 0.3 -1.8 0.3 1.2 0.3 0.4 0.4 -0.5 0.3 -0.3 0.3 -3.5 0.4 2.5 0.3 -1.9 0.3 -1.3 0.4 0 0.3 2.9 0.3 1.2 0.3 -4.6 0.4 5.8 0.3 -0.6 0.3 -3.5 0.4 -0.1 0.3 0.7 0.3 2 0.4 -2.6 0.3 -1.4 0.3 2.8 0.3 -4.5 0.4 4.2 0.3 2 0.3 -1.5 0.4 1 0.3 -0.5 0.3 0.6 0.4 -1 0.3 -1.7 0.3 1.3 0.3 0.4 0.4 2.6 0.3 0.8 0.3 -2.1 0.4 -1.9 0.3 0.2 0.3 1.1 0.4 3 0.3 -1.7 0.3 -0.5 0.3 -1 0.4 3.1 0.3 -0.7 0.3 -0.2 0.4 0.6 0.3 2.9 0.3 -2.5 0.4 3.2 0.3 -0.3 0.3 -1.6 0.3 1.6 0.4 -1.5 0.3 -1.1 0.3 1.1 0.4 -1.1 0.3 2.5 0.3 -0.8 0.4 0.9 0.3 0.5 0.3 -6.7 0.3 5.9 0.4 -3.6 0.3 3.4 0.3 -1.8 0.4 1.8 0.3 2.2 0.3 -5.3 0.4 3.3 0.3 -0.5 0.3 -3 0.3 4.3 0.4 -1 0.3 -0.9 0.3 -0.4 0.4 6.8 0.3 -6.2 0.3 -2.4 0.4 1.5 0.3 1 0.3 0 0.3 0.5 0.4 -1.6 0.3 2.7 0.3 -1.7 0.4 -1.5 0.3 0.9 0.3 0.7 0.4 2.2 0.3 -0.7 0.3 -1.4 0.3 0.6 0.4 0.4 0.3 3.1 0.3 -4.6 0.4 1.8 0.3 0.5 0.3 -3 0.4 2 0.3 -0.1 0.3 -1.2 0.3 1.8 0.4 0.7 0.3 0.1 0.3 -2.3 0.4 0.6 0.3 3.7 0.3 -6 0.4 2.2 0.3 1.1 0.3 -1.4 0.3 0.8 0.4 -0.9 0.3 0.9 0.3 0.9 0.4 -2.7 0.3 0.6 0.3 -0.5 0.4 -0.7 0.3 0.6 0.3 -2 0.3 3.2 0.4 1.6 0.3 -0.1 0.3 -0.8 0.4 -4 0.3 4.3 0.3 -4 0.4 1.1 0.3 3.2 0.3 -5.2 0.3 3.3 0.4 -1 0.3 -0.8 0.3 -1.4 0.4 2.3 0.3 -1.7 0.3 2.7 0.4 0.2 0.3 -4.7 0.3 1.6 0.3 0.3 0.4 -1.6 0.3 0.1 0.3 2.1 0.4 -0.5 0.3 -2.6 0.3 1.9 0.4 1.9 0.3 -3.1 0.3 0.6 0.3 4.5 0.4 -0.5 0.3 -5.2 0.3 0.6 0.4 3.1 0.3 -2.7 0.3 1.7 0.4 -0.3 0.3 1.9 0.3 -5.4 0.3 0.7 0.4 1.8 0.3 4.1 0.3 -2 0.4 -2.6 0.3 4 0.3 0.5 0.4 -1.6 0.3 0 0.3 1.5 0.3 1.4 0.4 -1.6 0.3 0.7 0.3 -0.8 0.4 -0.5 0.3 -0.7 0.3 2.1 0.4 -0.8 0.3 0.2 0.3 2.1 0.3 -0.6 0.4 0.8 0.3 -4 0.3 3.7 0.4 -1.8 0.3 -0.3 0.3 0.1 0.4 3.5 0.3 -0.5 0.3 -2.5 0.3 -0.6 0.4 2 0.3 -0.7 0.3 3.6 0.4 -5.1 0.3 -0.6 0.3 2.7 0.4 0.5 0.3 0.2 0.3 1.1 0.3 2.2 0.4 -4 0.3 -0.3 0.3 -2 0.4 3.4 0.3 1 0.3 -1.8 0.4 2.4 0.3 -1.9 0.3 2.5 0.3 -2 0.4 -2.2 0.3 0.7 0.3 -1.5 0.4 -0.3 0.3 3.3 0.3 1 0.4 1.9 0.3 -3.4 0.3 -0.2 0.3 -1.5 0.4 3.5 0.3 -1 0.3 -1.6 0.4 2.2 0.3 -0.2 0.3 -4 0.4 4.3 0.3 -1 0.3 -0.8 0.3 -0.1 0.4 3.6 0.3 -0.3 0.3 0.5 0.4 -4.9 0.3 0.8 0.3 2.6 0.4 -3.4 0.3 0.8 0.3 -1.8 0.3 6.1 0.4 -1.3 0.3 -1 0.3 -0.4 0.4 -1 0.3 0.1 0.3 1.6 0.4 -2.1 0.3 3.2 0.3 -2.8 0.3 -0.6 0.4 3.6 0.3 -2.4 0.3 1.2 0.4 -1.6 0.3 -3 0.3 4.6 0.4 -3 0.3 4 0.3 -4.3 0.3 -0.5 0.4 3.6 0.3 0.2 0.3 -0.5 0.4 -2.2 0.3 3.5 0.3 -3.8 0.4 1.6 0.3 -0.5 0.3 0.7 0.3 2 0.4 -2.4 0.3 2 0.3 0.2 0.4 -3.9 0.3 0.9 0.3 1.3 0.4 -0.3 0.3 1.5 0.3 -3.6 0.3 4.3 0.4 0.1 0.3 -1.5 0.3 -2 0.4 2.3 0.3 -0.9 0.3 1.9 0.4 -1.1 0.3 1.3 0.3 -1.8 0.3 3 0.4 -6 0.3 2.1 0.3 2.4 0.4 -3.2 0.3 3.6 0.3 -3.1 0.4 2.1 0.3 -1.6 0.3 0.8 0.3 1 0.4 -0.5 0.3 -0.4 0.3 4.1 0.4 -3.5 0.3 -1.6 0.3 3.1 0.4 -0.2 0.3 0.7 0.3 0.9 0.3 -4.4 0.4 3.2 0.3 0.1 0.3 -1.8 0.4 0.4 0.3 -5.3 0.3 4 0.4 3.8 0.3 -5.8 0.3 2 0.3 1.4 0.4 0.4 0.3 1.7 0.3 -5.5 0.4 3 0.3 1.3 0.3 -3.5 0.4 2 0.3 3.2 0.3 -1 0.3 -1.2 0.4 -5.1 0.3 4 0.3 0.8 0.4 -1.1 0.3 0.4 0.3 5.1 0.4 -5.3 0.3 -1.3 0.3 2 0.3 -0.9 0.4 0 0.3 0.4 0.3 1.4 0.4 -0.9 0.3 -2.3 0.3 1.7 0.4 1 0.3 -1.6 0.3 2.7 0.3 -0.6 0.4 -2.9 0.3 2.1 0.3 2.7 0.4 -0.7 0.3 -2.6 0.3 1.6 0.4 -2.6 0.3 -1.2 0.3 3.2 0.3 -0.5 0.4 0.4 0.3 -0.8 0.3 0.5 0.4 -1.3 0.3 1.6 0.3 0.5 0.4 -1.4 0.3 1.4 0.3 -4.2 0.3 1.6 0.4 3.6 0.3 0.6 0.3 -2.5 0.4 -0.6 0.3 -1.9 0.3 2.7 0.4 0.7 0.3 -3.7 0.3 3.3 0.3 -0.1 0.4 -0.1 0.3 -2.5 0.3 2.7 0.4 -3.3 0.3 4.8 0.3 -2.2 0.4 -2.1 0.3 4.1 0.3 -0.4 0.3 -2.9 0.4 4.6 0.3 -5.2 0.3 2.2 0.4 1.4 0.3 -5.6 0.3 5.3 0.4 -1.8 0.3 0.1 0.3 -1.7 0.3 2.2 0.4 -2.3 0.3 0.2 0.3 0.9 0.4 -1.3 0.3 4.5 0.3 -4.7 0.4 0.9 0.3 0.7 0.3 0.5 0.3 1.3 0.4 0 0.3 -1.8 0.3 -0.1 0.4 0.6 0.3 1.3 0.3 -0.2 0.4 -2 0.3 -2.5 0.3 6.8 0.3 -1.9 0.4 -1.2 0.3 0.1 0.3 -1.4 0.4 -0.8 0.3 1.1 0.3 0.2 0.4 -0.7 0.3 -1.3 0.3 1.8 0.3 1.5 0.4 -1.8 0.3 0.8 0.3 -3.4 0.4 3 0.3 0.2 0.3 -1.8 0.4 -0.9 0.3 3.5 0.3 -2 0.3 2.1 0.4 -1.5 0.3 1.7 0.3 -1.5 0.4 -1.9 0.3 2.3 0.3 -0.4 0.4 1.6 0.3 -1.8 0.3 0.1 0.3 2 0.4 0.5 0.3 -0.7 0.3 0.5 0.4 -1 0.3 0.6 0.3 0.1 0.4 -0.7 0.3 -0.6 0.3 0.1 0.3 3.7 0.4 -3.9 0.3 -0.4 0.3 -0.2 0.4 0.6 0.3 0.4 0.3 -2.2 0.4 -1.4 0.3 3.8 0.3 -3.1 0.3 3 0.4 -0.2 0.3 1.7 0.3 0.8 0.4 -2.1 0.3 -1.5 0.3 -1 0.4 0.7 0.3 1.3 0.3 -3.4 0.3 3.5 0.4 -0.1 0.3 1.1 0.3 -1.6 0.4 0.7 0.3 -1.3 0.3 0.4 0.4 -2.1 0.3 3.1 0.3 2.4 0.3 -2.3 0.4 0.4 0.3 -2.2 0.3 3.9 0.4 -3.5 0.3 2.5 0.3 -1.1 0.4 -1.7 0.3 3.3 0.3 -1.7 0.3 0.3 0.4 0.5 0.3 -0.8 0.3 -0.5 0.4 1.4 0.3 -1.4 0.3 0.7 0.4 -1.1 0.3 -1.3 0.3 1.3 0.3 0.3 0.4 0.9 0.3 1.9 0.3 -4.7 0.4 3 0.3 -3.8 0.3 1.9 0.4 0.9 0.3 -2.8 0.3 0.7 0.3 3.2 0.4 -0.1 0.3 -0.2 0.3 -1.1 0.4 4.7 0.3 -3.7 0.3 -1.1 0.4 4.1 0.3 -1.7 0.3 -1.5 0.3 2.5 0.4 -1.6 0.3 0.8 0.3 -0.7 0.4 -2 0.3 3.3 0.3 -1.3 0.4 -1.9 0.3 0.5 0.3 2.7 0.3 -2.1 0.4 0.7 0.3 1 0.3 -0.8 0.4 -2.6 0.3 3.5 0.3 0.5 0.4 -0.1 0.3 1.2 0.3 -1.9 0.3 0.7 0.4 1.3 0.3 -3 0.3 3.3 0.4 0 0.3 -1.5 0.3 1.7 0.4 -1.5 0.3 -2.7 0.3 3.2 0.3 -1.3 0.4 0.2 0.3 -0.4 0.3 2 0.4 -1.3 0.3 -1.9 0.3 1.9 0.4 0.4 0.3 -2.3 0.3 0.5 0.3 0.1 0.4 -0.3 0.3 1.5 0.3 1.1 0.4 1.4 0.3 -1 0.3 -0.3 0.4 0.2 0.3 0.4 0.3 -2.7 0.3 1.7 0.4 -0.6 0.3 -0.6 0.3 -0.5 0.4 -0.1 0.3 0.4 0.3 -1.5 0.4 2.8 0.3 -0.8 0.3 0.2 0.3 0.4 0.4 0.6 0.3 -2 0.3 0.8 0.4 -2.4 0.3 -0.9 0.3 0.5 0.4 5.4 0.3 -5.2 0.3 3.5 0.3 1.6 0.4 -3 0.3 3.3 0.3 0.3 0.4 -1.4 0.3 2.3 0.3 -2.7 0.4 -2.1 0.3 1.9 0.3 -1.4 0.3 -1.4 0.4 0.1 0.3 5.6 0.3 -4.4 0.4 0.8 0.3 -1 0.3 1.2 0.4 -0.5 0.3 -0.3 0.3 -1.2 0.3 -0.3 0.4 1 0.3 1.6 0.3 2.8 0.4 -1.6 0.3 1.2 0.3 -2 0.4 -0.9 0.3 -1.9 0.3 2.1 0.3 -3.3 0.4 2.8 0.3 3 0.3 -2 0.4 1.3 0.3 -2.4 0.3 -1.5 0.4 1.4 0.3 0.1 0.3 2.5 0.3 1.2 0.4 -4.2 0.3 0.6 0.3 0.4 0.4 -0.3 0.3 -1.4 0.3 2.1 0.4 0.4 0.3 0 0.3 -2.4 0.3 1.7 0.4 -2.5 0.3 4.1 0.3 -3 0.4 1.2 0.3 -0.3 0.3 -0.2 0.4 -0.7 0.3 -1.1 0.3 5.4 0.3 -2.3 0.4 0 0.3 2.9 0.3 -3.4 0.4 1 0.3 -0.8 0.3 1.8 0.4 -1 0.3 -0.3 0.3 -0.9 0.3 0.9 0.4 1.3 0.3 -4.9 0.3 3 0.4 -0.5 0.3 0.2 0.3 -2.5 0.4 4.1 0.3 -2.4 0.3 1 0.3 -0.4 0.4 -1.8 0.3 1.9 0.3 -2.2 0.4 1.4 0.3 1 0.3 0.5 0.4 0.1 0.3 -0.3 0.3 3.5 0.3 -2.6 0.4 -2.5 0.3 1 0.3 -0.1 0.4 0.8 0.3 -0.7 0.3 -0.3 0.4 3.8 0.3 -2.4 0.3 -0.6 0.3 0.2 0.4 0 0.3 2.5 0.3 -1.4 0.4 1 0.3 -6.4 0.3 5.3 0.4 1.1 0.3 1.4 0.3 -2.9 0.3 -2.6 0.4 3.5 0.3 -1.8 0.3 -1.8 0.4 1.8 0.3 2.6 0.3 0.2 0.4 -0.7 0.3 -2.6 0.3 5.4 0.3 -5.5 0.4 1.6 0.3 -2 0.3 4.2 0.4 -1.3 0.3 0.7 0.3 -1.2 0.4 -0.2 0.3 0.4 0.3 -3 0.3 4.3 0.4 -0.1 0.3 -1.9 0.3 0.6 0.4 0.5 0.3 1.9 0.3 -1.6 0.4 -0.6 0.3 -0.8 0.3 -1.4 0.3 1.4 0.4 1 0.3 -0.5 0.3 0.6 0.4 1 0.3 -0.4 0.3 -0.2 0.4 0.6 0.3 -0.7 0.3 -0.3 0.3 0.8 0.4 -3.2 0.3 4.4 0.3 -3.7 0.4 3.2 0.3 -1.2 0.3 1.6 0.4 -1.5 0.3 -1.4 0.3 3 0.3 -1.3 0.4 -0.1 0.3 0 0.3 1.4 0.4 -0.2 0.3 -0.8 0.3 -2.6 0.4 1.7 0.3 0.8 0.3 2.5 0.3 -2 0.4 -0.7 0.3 1.9 0.3 -1.9 0.4 0.2 0.3 0.3 0.3 -2.4 0.4 3.6 0.3 -0.7 0.3 -1 0.3 -1.2 0.4 2 0.3 1.8 0.3 -3 0.4 -0.5 0.3 2.1 0.3 -2.8 0.4 -0.9 0.3 2.6 0.3 -0.3 0.3 0.6 0.4 -0.4 0.3 1.3 0.3 -0.7 0.4 -0.5 0.3 0.2 0.3 1.6 0.4 0.5 0.3 0 0.3 -0.3 0.3 -5.7 0.4 3.3 0.3 1.1 0.3 0.7 0.4 -2.5 0.3 4.3 0.3 -1.5 0.4 -1.3 0.3 1.1 0.3 -0.7 0.3 -0.5 0.4 1.8 0.3 -1.3 0.3 -1.4 0.4 1.2 0.3 0.7 0.3 -1.3 0.4 3.3 0.3 -3.3 0.3 4.1 0.3 -1.2 0.4 -2.6 0.3 1.6 0.3 1.5 0.4 -1.9 0.3 -1.4 0.3 1.9 0.4 2.6 0.3 -4.8 0.3 2.8 0.3 -0.7 0.4 -0.1 0.3 -0.4 0.3 0.1 0.4 1.9 0.3 -0.6 0.3 -2.2 0.4 3.6 0.3 -3.9 0.3 2.7 0.3 -0.6 0.4 1.4 0.3 -1.1 0.3 1 0.4 -1.5 0.3 1.4 0.3 -0.9 0.4 2.6 0.3 -4 0.3 2.7 0.3 -1 0.4 -0.4 0.3 -1 0.3 1.4 0.4 -2.6 0.3 0.1 0.3 2.9 0.4 -3.1 0.3 4.2 0.3 -2.4 0.3 0.8 0.4 -0.3 0.3 0.5 0.3 -0.9 0.4 -0.1 0.3 0.4 0.3 1.6 0.4 0.1 0.3 0.2 0.3 -1.2 0.3 -0.8 0.4 -2 0.3 3.2 0.3 0.3 0.4 -1.7 0.3 1.7 0.3 0.7 0.4 -1.6 0.3 1.3 0.3 -1 0.3 -2.8 0.4 1.8 0.3 0.1 0.3 1.3 0.4 -1.9 0.3 0.6 0.3 -0.7 0.4 1.3 0.3 0.2 0.3 1.2 0.3 -0.2 0.4 -0.9 0.3 0.2 0.3 -0.2 0.4 0 0.3 2 0.3 -5.5 0.4 3.2 0.3 0.7 0.3 1.1 0.3 -3 0.4 2 0.3 0.7 0.3 -1.8 0.4 -2 0.3 2.2 0.3 -1.2 0.4 2.6 0.3 -2.1 0.3 3.6 0.3 -2.2 0.4 -1.2 0.3 0.4 0.3 -0.8 0.4 2 0.3 1.5 0.3 -2.3 0.4 1.6 0.3 -2.5 0.3 1.7 0.3 2.7 0.4 -5 0.3 3.6 0.3 -0.1 0.4 -4.1 0.3 0.6 0.3 0.7 0.4 2.6 0.3 -1.9 0.3 0.4 0.3 1.2 0.4 -0.8 0.3 0.2 0.3 -0.7 0.4 1.9 0.3 -2.5 0.3 3.3 0.4 -2.7 0.3 -0.6 0.3 2 0.3 -0.3 0.4 -3.2 0.3 2.9 0.3 -2.1 0.4 0.7 0.3 2.2 0.3 -2.2 0.4 1.7 0.3 -1 0.3 3.1 0.3 -2.7 0.4 -1.4 0.3 0.1 0.3 0.3 0.4 1.4 0.3 -0.2 0.3 1.3 0.4 -1.1 0.3 0 0.3 0.3 0.3 -0.6 0.4 0.6 0.3 0.6 0.3 0 0.4 -1.7 0.3 -1.6 0.3 1.3 0.4 1.4 0.3 -3.7 0.3 2.7 0.3 1.3 0.4 -1.4 0.3 -0.7 0.3 3.8 0.4 -0.4 0.3 -2.2 0.3 2.1 0.4 0 0.3 -3.2 0.3 5 0.3 -4.8 0.4 0.9 0.3 -1.1 0.3 1.6 0.4 -1.8 0.3 1.7 0.3 1.5 0.4 -1.2 0.3 -0.6 0.3 2.4 0.3 -3.2 0.4 2.5 0.3 -1.7 0.3 0.7 0.4 -0.2 0.3 0.1 0.3 -0.2 0.4 -1 0.3 0.3 0.3 1.4 0.3 -0.8 0.4 -1.3 0.3 0.6 0.3 0 0.4 0.8 0.3 0.4 0.3 -0.1 0.4 -1 0.3 0.9 0.3 -1.8 0.3 -2 0.4 3.7 0.3 -2.1 0.3 0.9 0.4 -0.3 0.3 2.4 0.3 -2.4 0.4 2 0.3 -1 0.3 -1 0.3 -0.4 0.4 2.7 0.3 -0.1 0.3 0.5 0.4 1.4 0.3 -2.1 0.3 0.1 0.4 -0.6 0.3 0.3 0.3 -0.5 0.3 -0.7 0.4 3.7 0.3 -5 0.3 2.8 0.4 0.2 0.3 -0.3 0.3 -1.5 0.4 1 0.3 -0.3 0.3 -0.8 0.3 1.3 0.4 -0.4 0.3 -0.2 0.3 1.6 0.4 -2.3 0.3 2 0.3 -1.4 0.4 1.4 0.3 -0.5 0.3 0.3 0.3 -1.6 0.4 0.3 0.3 -0.1 0.3 1.3 0.4 0.8 0.3 0.4 0.3 -2 0.4 0.7 0.3 -2.2 0.3 -0.7 0.3 1.7 0.4 0.3 0.3 -1.2 0.3 -0.2 0.4 3 0.3 -1.8 0.3 -1.1 0.4 5.2 0.3 -2.8 0.3 -0.6 0.3 1.3 0.4 -1.9 0.3 3.1 0.3 -4.1 0.4 0.3 0.3 1.6 0.3 -0.8 0.4 2.8 0.3 -3.9 0.3 1.1 0.3 1.3 0.4 0.4 0.3 0.6 0.3 -0.9 0.4 2.4 0.3 -3.4 0.3 0.8 0.4 0.9 0.3 -1.5 0.3 0 0.3 -0.2 0.4 -0.2 0.3 -0.6 0.3 0.7 0.4 -1.2 0.3 2.4 0.3 -2.5 0.4 4.7 0.3 -0.4 0.3 -0.8 0.3 -1.7 0.4 -0.5 0.3 2.4 0.3 -1.4 0.4 0.5 0.3 -1.6 0.3 2.3 0.4 -2.4 0.3 1.2 0.3 -2.4 0.3 1.4 0.4 1.5 0.3 -1.2 0.3 0 0.4 1.6 0.3 -1.1 0.3 1.7 0.4 -4.7 0.3 3.8 0.3 -0.1 0.3 -2.6 0.4 0.3 0.3 2.8 0.3 -2.4 0.4 0.5 0.3 1.6 0.3 -1.2 0.4 1.1 0.3 -1.8 0.3 1.5 0.3 1 0.4 -0.9 0.3 -3.2 0.3 3.6 0.4 -0.7 0.3 -1.3 0.3 3 0.4 -4 0.3 4.6 0.3 -3.2 0.3 2.8 0.4 -2 0.3 -1.7 0.3 1.9 0.4 0.3 0.3 0.2 0.3 0.7 0.4 -2.5 0.3 1.8 0.3 0.3 0.3 -1.3 0.4 -0.8 0.3 0 0.3 2.1 0.4 0.1 0.3 -2.1 0.3 -0.6 0.4 3.3 0.3 -3.6 0.3 2.2 0.3 -1.2 0.4 -1.2 0.3 2.4 0.3 -0.4 0.4 2.1 0.3 1 0.3 -3.1 0.4 1.5 0.3 0.1 0.3 -2 0.3 -0.5 0.4 3.2 0.3 -2.5 0.3 0.4 0.4 -0.3 0.3 0.2 0.3 -0.6 0.4 1.7 0.3 0.7 0.3 -2.1 0.3 -1.3 0.4 1.9 0.3 -2 0.3 1.1 0.4 2.4 0.3 1.4 0.3 -2.5 0.4 -1.8 0.3 2.3 0.3 -3.8 0.3 1.9 0.4 2.9 0.3 -1 0.3 -2.7 0.4 -0.4 0.3 3.2 0.3 -1.1 0.4 -0.7 0.3 1.3 0.3 -1.3 0.3 -1.7 0.4 3.5 0.3 -1.8 0.3 -0.5 0.4 -0.4 0.3 2 0.3 -1.3 0.4 1.8 0.3 -1.1 0.3 1.7 0.3 -1.9 0.4 -0.3 0.3 -1.7 0.3 1.1 0.4 2.3 0.3 3 0.3 -5.5 0.4 0.3 0.3 1.8 0.3 0.1 0.3 -1.4 0.4 1 0.3 -2.2 0.3 1.7 0.4 1.5 0.3 0.9 0.3 -2.2 0.4 -0.1 0.3 0.9 0.3 0.8 0.3 -0.8 0.4 -1.6 0.3 1.5 0.3 0.7 0.4 -2.1 0.3 -0.8 0.3 2.4 0.4 -0.2 0.3 0.8 0.3 -1.1 0.3 -1 0.4 0.3 0.3 -0.7 0.3 0.1 0.4 0.5 0.3 0.1 0.3 2 0.4 -3 0.3 1.5 0.3 -0.6 0.3 2.6 0.4 -1.6 0.3 -0.8 0.3 1.5 0.4 -0.9 0.3 -0.7 0.3 2.6 0.4 -1.1 0.3 1.3 0.3 -0.7 0.3 -0.5 0.4 -0.8 0.3 -1.5 0.3 2.3 0.4 -0.8 0.3 0.7 0.3 -0.8 0.4 -0.9 0.3 -0.3 0.3 2.1 0.3 0.8 0.4 -2 0.3 0.9 0.3 1.2 0.4 -2.8 0.3 0.7 0.3 -1 0.4 2.9 0.3 -1.2 0.3 -0.9 0.3 -1.5 0.4 1.9 0.3 1.5 0.3 -1.6 0.4 -0.2 0.3 1.4 0.3 -2.4 0.4 1.6 0.3 0.7 0.3 -1.7 0.3 0 0.4 1.3 0.3 -0.4 0.3 -0.1 0.4 0.5 0.3 0 0.3 -1.4 0.4 0.4 0.3 1.4 0.3 0.8 0.3 0.3 0.4 -2.7 0.3 2.4 0.3 -0.4 0.4 -1 0.3 0.7 0.3 0.4 0.4 1.2 0.3 -3.5 0.3 2.1 0.3 -0.9 0.4 -0.1 0.3 1.7 0.3 -0.4 0.4 -2.3 0.3 1 0.3 0.6 0.4 -2 0.3 2.8 0.3 -1.1 0.3 0.3 0.4 0.2 0.3 1.8 0.3 -2.1 0.4 -0.5 0.3 2.6 0.3 -2.8 0.4 0 0.3 -1 0.3 3 0.3 -1 0.4 0.3 0.3 -0.4 0.3 -0.3 0.4 -0.8 0.3 0 0.3 1.5 0.4 -0.3 0.3 1.8 0.3 -2.9 0.3 0.4 0.4 -0.7 0.3 3 0.3 -3.2 0.4 2.5 0.3 0.8 0.3 -1.9 0.4 1 0.3 -3.4 0.3 2.1 0.3 -1.5 0.4 2.2 0.3 -0.1 0.3 -1 0.4 2.1 0.3 -0.7 0.3 -1 0.4 0 0.3 -1.1 0.3 1.5 0.3 2.8 0.4 -3.4 0.3 1.4 0.3 -1.1 0.4 1.6 0.3 -0.4 0.3 -0.8 0.4 -1.9 0.3 1.6 0.3 2.1 0.3 -1.8 0.4 1.1 0.3 -1.3 0.3 -1.7 0.4 2.8 0.3 -0.1 0.3 -1.1 0.4 0.3 0.3 0.8 0.3 -1 0.3 1.1 0.4 -0.6 0.3 -2.6 0.3 2.7 0.4 -0.5 0.3 -0.3 0.3 1.5 0.4 -1.1 0.3 1.3 0.3 0.7 0.3 -1.1 0.4 -2 0.3 0.9 0.3 2 0.4 -1.4 0.3 -0.6" stroke="#ffff00" stroke-width="3.2"/>
<path d="M219.5 680.1l0.3 1.7 0.4 -1.3 0.3 1 0.3 -5.6 0.4 1.5 0.3 -0.3 0.3 0.4 0.3 -7.7 0.4 6.2 0.3 -4.4 0.3 9.4 0.4 0.2 0.3 0.1 0.3 -3.5 0.4 -5.1 0.3 4.9 0.3 -4.6 0.3 2.5 0.4 -5.8 0.3 0.7 0.3 3.4 0.4 4.4 0.3 -7 0.3 8 0.4 1.5 0.3 -15.3 0.3 4.3 0.3 -3.9 0.4 2.7 0.3 -1.8 0.3 1.4 0.4 3.8 0.3 -0.4 0.3 -3 0.4 -1.3 0.3 0.2 0.3 -0.2 0.3 1.5 0.4 -2.6 0.3 1.7 0.3 -7.5 0.4 8.1 0.3 3.6 0.3 -6.6 0.4 -6.7 0.3 10.9 0.3 -7.1 0.3 -11.1 0.4 11.1 0.3 3.2 0.3 -1.2 0.4 3.4 0.3 -2.8 0.3 -2.3 0.4 -9.1 0.3 3.5 0.3 5.4 0.3 2.1 0.4 -7.6 0.3 1.8 0.3 4.7 0.4 -10.5 0.3 -0.2 0.3 7.5 0.4 2.2 0.3 -3.2 0.3 -8 0.3 10.3 0.4 -5.9 0.3 8.7 0.3 -3.2 0.4 1.6 0.3 1.8 0.3 -5.1 0.4 6 0.3 1.9 0.3 -3.6 0.3 4.2 0.4 -8.5 0.3 6.8 0.3 -2.7 0.4 -5.4 0.3 4.1 0.3 -1.9 0.4 0 0.3 2.8 0.3 4.4 0.3 -6 0.4 2.1 0.3 -6.9 0.3 6.9 0.4 4.7 0.3 -1.5 0.3 -1.3 0.4 -4.3 0.3 -1.9 0.3 3.9 0.3 -5.3 0.4 0.6 0.3 9.5 0.3 -8 0.4 11.8 0.3 -13.8 0.3 8.2 0.4 -6.8 0.3 5.9 0.3 -5.1 0.3 4.8 0.4 -0.7 0.3 -1.2 0.3 4.3 0.4 4.3 0.3 -8.5 0.3 6.2 0.4 -3 0.3 -0.1 0.3 8.9 0.3 -16.4 0.4 6.1 0.3 -3.9 0.3 6 0.4 0.7 0.3 15.4 0.3 -12.5 0.4 5.8 0.3 -1.4 0.3 -6.2 0.3 3.9 0.4 4.9 0.3 -5.5 0.3 0.5 0.4 1.4 0.3 -7.5 0.3 3 0.4 4.7 0.3 1.1 0.3 -5.3 0.3 2.6 0.4 1 0.3 0.2 0.3 3.6 0.4 -2.1 0.3 0.5 0.3 -6 0.4 1.6 0.3 5.7 0.3 -7.5 0.3 7.6 0.4 -3.6 0.3 -0.5 0.3 6.1 0.4 -5.3 0.3 -0.6 0.3 0.8 0.4 3.1 0.3 11.1 0.3 -19.8 0.3 8.7 0.4 -0.8 0.3 4.9 0.3 -5.3 0.4 -8.6 0.3 15.7 0.3 -9.9 0.4 4.3 0.3 -5.4 0.3 1.2 0.3 2.5 0.4 5.5 0.3 0 0.3 -6 0.4 4.4 0.3 -3.7 0.3 1.8 0.4 0 0.3 1.6 0.3 -5 0.3 1.6 0.4 1.1 0.3 -0.8 0.3 -3.7 0.4 9.2 0.3 -8.5 0.3 4.1 0.4 -2.4 0.3 3.3 0.3 -12.7 0.3 14.6 0.4 -8.3 0.3 -3.5 0.3 3.1 0.4 4.2 0.3 -5.2 0.3 -4.6 0.4 0.5 0.3 2.4 0.3 -6.3 0.3 1.1 0.4 -1.3 0.3 3.1 0.3 -5.5 0.4 0.4 0.3 -4 0.3 -1.9 0.4 0.1 0.3 -2.1 0.3 -4.8 0.3 2.3 0.4 -0.6 0.3 -4.8 0.3 3.2 0.4 0.3 0.3 -2 0.3 1 0.4 1.2 0.3 2.1 0.3 -0.1 0.3 3.4 0.4 -0.4 0.3 3.7 0.3 1.2 0.4 0.1 0.3 4 0.3 2.8 0.4 1 0.3 -0.8 0.3 4.4 0.3 0.8 0.4 1.4 0.3 0.9 0.3 2.2 0.4 3.4 0.3 0 0.3 -0.2 0.4 0.8 0.3 1.6 0.3 2.9 0.3 3.4 0.4 -4.2 0.3 3 0.3 0.2 0.4 0.2 0.3 3.3 0.3 1.3 0.4 -3.8 0.3 1.6 0.3 6.2 0.3 -1.4 0.4 1.2 0.3 -1.9 0.3 0.9 0.4 2.9 0.3 -2 0.3 -1.1 0.4 3.7 0.3 3.1 0.3 -5 0.3 6.6 0.4 -0.5 0.3 -4.1 0.3 3 0.4 0.4 0.3 2.5 0.3 0.5 0.4 -5.6 0.3 0.2 0.3 7.8 0.3 -2.4 0.4 1.3 0.3 0.1 0.3 4.2 0.4 -8.3 0.3 7.6 0.3 -5.7 0.4 5.3 0.3 2.3 0.3 -8.5 0.3 6.1 0.4 -2 0.3 0.2 0.3 1.4 0.4 -3.4 0.3 0.5 0.3 5.7 0.4 0.8 0.3 -4.5 0.3 -2.7 0.3 12.8 0.4 -3.9 0.3 -2.2 0.3 -4.4 0.4 1.7 0.3 3 0.3 -3.9 0.4 8.8 0.3 -4.8 0.3 1.1 0.3 -4.7 0.4 0.5 0.3 0.5 0.3 3.7 0.4 -1.8 0.3 -0.1 0.3 2.1 0.4 -0.4 0.3 4.3 0.3 -5.8 0.3 -2.8 0.4 3.4 0.3 5 0.3 -7 0.4 2 0.3 -1.5 0.3 2.5 0.4 -0.6 0.3 -3.7 0.3 1.8 0.3 3.9 0.4 0.4 0.3 -0.8 0.3 -0.3 0.4 -4.2 0.3 -0.3 0.3 3.4 0.4 -6 0.3 2 0.3 -4.3 0.3 1.9 0.4 -1.5 0.3 -1.8 0.3 1.6 0.4 -3.1 0.3 -0.7 0.3 -1 0.4 -1.9 0.3 2.6 0.3 -4.4 0.3 0.3 0.4 -3.9 0.3 0.7 0.3 -0.7 0.4 -1 0.3 -1.5 0.3 0.5 0.4 1.8 0.3 -4.3 0.3 -1 0.3 -1.5 0.4 4.4 0.3 -2.8 0.3 -3 0.4 -0.9 0.3 -3.6 0.3 -0.2 0.4 -0.6 0.3 -1.4 0.3 -2.8 0.3 -1.1 0.4 0.5 0.3 -1.7 0.3 -4.5 0.4 1.1 0.3 -0.6 0.3 -3.7 0.4 -1.1 0.3 -3.5 0.3 -0.3 0.3 -3.7 0.4 -2.3 0.3 -1.6 0.3 -0.5 0.4 -4.4 0.3 -2.9 0.3 -1.1 0.4 -2.5 0.3 -1.3 0.3 -4.5 0.3 -2.5 0.4 -1.2 0.3 -1.5 0.3 -2.1 0.4 -1.8 0.3 -4 0.3 -2.1 0.4 -2.1 0.3 -2.1 0.3 -2.7 0.3 -2.9 0.4 -2.7 0.3 -1.1 0.3 -1.9 0.4 -0.2 0.3 -3.9 0.3 1.3 0.4 -5.4 0.3 0.6 0.3 -0.4 0.3 0.8 0.4 -0.6 0.3 1.4 0.3 1.6 0.4 0 0.3 2.7 0.3 -0.4 0.4 1 0.3 3.3 0.3 -0.8 0.3 0.8 0.4 0.7 0.3 1.2 0.3 1.9 0.4 -1.4 0.3 4.4 0.3 1.7 0.4 0.3 0.3 -1.3 0.3 -0.3 0.3 3 0.4 2.2 0.3 2.4 0.3 0 0.4 1.3 0.3 4 0.3 -1.6 0.4 4 0.3 1.3 0.3 -2.2 0.3 4 0.4 -0.1 0.3 0.5 0.3 -0.6 0.4 1.5 0.3 5.3 0.3 -0.7 0.4 2.5 0.3 -1.9 0.3 2.7 0.3 1.1 0.4 -1.9 0.3 0.7 0.3 5.9 0.4 0.2 0.3 -1.7 0.3 2.9 0.4 2.9 0.3 4.1 0.3 -6.7 0.3 5 0.4 5.4 0.3 -5.6 0.3 5 0.4 -11.7 0.3 12.9 0.3 -3.7 0.4 -5 0.3 8.8 0.3 1.6 0.3 1.3 0.4 0.6 0.3 -3.8 0.3 -2.4 0.4 1.3 0.3 2 0.3 2 0.4 -3.9 0.3 2.3 0.3 3.4 0.3 -2.6 0.4 7.7 0.3 -1.2 0.3 -13.1 0.4 1.8 0.3 -3 0.3 0.1 0.4 5.2 0.3 -5.6 0.3 -0.7 0.3 1.7 0.4 2.5 0.3 -4.1 0.3 -0.8 0.4 2.7 0.3 -2 0.3 -0.9 0.4 0.2 0.3 -5.3 0.3 1.2 0.3 -2.7 0.4 0.6 0.3 -2.1 0.3 -3.7 0.4 0.2 0.3 -4.3 0.3 -0.3 0.4 -3 0.3 -3.2 0.3 -2.6 0.3 -1.9 0.4 -2.4 0.3 -3 0.3 -2 0.4 -3.6 0.3 -2 0.3 -2.6 0.4 -3.3 0.3 -2 0.3 -3.4 0.3 -3.3 0.4 -2.8 0.3 -3.2 0.3 -3.3 0.4 -3.7 0.3 -3.3 0.3 -3.6 0.4 -3.6 0.3 -3.6 0.3 -3.6 0.3 -3.6 0.4 -3.4 0.3 -3.3 0.3 -3.5 0.4 -3.7 0.3 -4.1 0.3 -4 0.4 -4.3 0.3 -4.4 0.3 -4.2 0.3 -4.1 0.4 -4.1 0.3 -3.7 0.3 -3.4 0.4 -3.4 0.3 -2.3 0.3 -1.7 0.4 -0.9 0.3 0.7 0.3 -5.3 0.3 3.2 0.4 1.5 0.3 1 0.3 0.9 0.4 -2.6 0.3 1.3 0.3 0.2 0.4 2.6 0.3 -0.9 0.3 3 0.3 0.8 0.4 0.8 0.3 -0.6 0.3 2.2 0.4 2.2 0.3 0.3 0.3 2.4 0.4 2.3 0.3 2.9 0.3 2.9 0.3 3.3 0.4 3.5 0.3 3.8 0.3 3.9 0.4 4.1 0.3 4 0.3 4.2 0.4 3.8 0.3 4.6 0.3 4.7 0.3 5.2 0.4 5.2 0.3 5.6 0.3 5.7 0.4 5.7 0.3 5.9 0.3 5.9 0.4 5.9 0.3 5.5 0.3 5.8 0.3 5.4 0.4 5.1 0.3 5 0.3 4.4 0.4 5.3 0.3 4.5 0.3 5 0.4 3.9 0.3 4.3 0.3 4.5 0.3 3.3 0.4 4.1 0.3 2.7 0.3 2.9 0.4 2.8 0.3 2.2 0.3 3.4 0.4 1.2 0.3 0.4 0.3 3.7 0.3 0 0.4 3 0.3 0.9 0.3 2.2 0.4 3.6 0.3 0.3 0.3 1.7 0.4 1.7 0.3 1.8 0.3 3.4 0.3 -1.7 0.4 1 0.3 3.7 0.3 -2 0.4 2.9 0.3 3.3 0.3 -0.7 0.4 0.2 0.3 0.5 0.3 0.6 0.3 1.3 0.4 2.2 0.3 3 0.3 0.2 0.4 -2.6 0.3 0.2 0.3 3.9 0.4 -5.6 0.3 3.8 0.3 0.8 0.3 -1.5 0.4 0.8 0.3 3.7 0.3 -4.5 0.4 2.3 0.3 1 0.3 2.3 0.4 -3.4 0.3 6.7 0.3 -3.3 0.3 0.4 0.4 0 0.3 -0.6 0.3 -0.7 0.4 6.1 0.3 -2.5 0.3 -0.8 0.4 3.3 0.3 -4.9 0.3 3.8 0.3 -1.8 0.4 -2.6 0.3 4.6 0.3 -6.4 0.4 6 0.3 -4.5 0.3 3.6 0.4 2.6 0.3 -2.4 0.3 -3.4 0.3 1.4 0.4 -1.1 0.3 -2.4 0.3 0 0.4 3.1 0.3 1.2 0.3 -6.7 0.4 4.6 0.3 1.4 0.3 -1.3 0.3 -3.2 0.4 4.8 0.3 -5.8 0.3 3.5 0.4 1.3 0.3 -7.9 0.3 3.7 0.4 -0.7 0.3 -1 0.3 -2.6 0.3 0.1 0.4 -3.1 0.3 2.6 0.3 0.5 0.4 -3.6 0.3 -1.3 0.3 1 0.4 1.3 0.3 0.2 0.3 -0.4 0.3 0.7 0.4 -4 0.3 -3.9 0.3 10.1 0.4 2.6 0.3 -7.6 0.3 2.5 0.4 3 0.3 2.1 0.3 -0.4 0.3 2.1 0.4 -2.9 0.3 1.7 0.3 0.4 0.4 -1.5 0.3 4.4 0.3 -0.9 0.4 1.2 0.3 -2 0.3 3.3 0.3 -2.6 0.4 3.3 0.3 -4.1 0.3 3.4 0.4 3.8 0.3 -1.6 0.3 1.9 0.4 -3.8 0.3 7.9 0.3 -1.9 0.3 -1.1 0.4 1.4 0.3 0.1 0.3 3 0.4 -2.6 0.3 -4 0.3 3.4 0.4 4.1 0.3 -1.5 0.3 -2.3 0.3 2.8 0.4 -1 0.3 1.5 0.3 -5.3 0.4 2 0.3 4.1 0.3 -1.9 0.4 1.6 0.3 4.2 0.3 -5.4 0.3 1.6 0.4 -1.7 0.3 0 0.3 1.6 0.4 -3.2 0.3 -1.4 0.3 8.7 0.4 -3.4 0.3 3.2 0.3 -2.3 0.3 0.3 0.4 1.5 0.3 0.3 0.3 -4.5 0.4 6 0.3 -5.1 0.3 3 0.4 5.9 0.3 -5.8 0.3 4 0.3 -4.6 0.4 2.5 0.3 -1.1 0.3 1 0.4 -2.7 0.3 0 0.3 3.2 0.4 -4.2 0.3 1.9 0.3 3.7 0.3 -2.7 0.4 -0.4 0.3 -0.2 0.3 3.1 0.4 -0.9 0.3 1.4 0.3 -0.6 0.4 4.8 0.3 -4.8 0.3 -3.2 0.3 4.9 0.4 0 0.3 0.5 0.3 -3.6 0.4 6.3 0.3 -2.4 0.3 0.2 0.4 -3.1 0.3 4.7 0.3 -0.9 0.3 3.2 0.4 -3.6 0.3 -1.5 0.3 3.2 0.4 -2 0.3 3.1 0.3 -2.9 0.4 2.3 0.3 0 0.3 0.7 0.3 -0.7 0.4 -0.4 0.3 1.8 0.3 -0.8 0.4 1.7 0.3 -0.6 0.3 -3.8 0.4 4.6 0.3 3.2 0.3 -2 0.3 0.7 0.4 -0.1 0.3 -1.8 0.3 -1.7 0.4 4.5 0.3 0.6 0.3 -1 0.4 -0.3 0.3 -0.1 0.3 -0.9 0.3 0.6 0.4 -0.6 0.3 0.5 0.3 -2.7 0.4 0.6 0.3 2.4 0.3 -2 0.4 -4.4 0.3 5.2 0.3 -5.1 0.3 8.6 0.4 -2.6 0.3 -0.2 0.3 -2.9 0.4 -1 0.3 1.8 0.3 0.4 0.4 -1.7 0.3 1.9 0.3 1 0.3 -0.2 0.4 -3.5 0.3 -2.4 0.3 4.6 0.4 -1.4 0.3 2.4 0.3 2.6 0.4 0 0.3 -2.8 0.3 1.8 0.3 1.2 0.4 -3.3 0.3 0.6 0.3 1.3 0.4 -1.7 0.3 -0.9 0.3 -0.4 0.4 1.6 0.3 -1.1 0.3 3 0.3 -2.3 0.4 3.8 0.3 -0.4 0.3 -5 0.4 4.9 0.3 -3 0.3 3.7 0.4 -1.7 0.3 -1.2 0.3 1.5 0.3 -2.5 0.4 1.8 0.3 0.1 0.3 -1.1 0.4 1 0.3 -2.8 0.3 3.1 0.4 -3.6 0.3 3.7 0.3 -0.4 0.3 0.5 0.4 -2.7 0.3 7.4 0.3 -6.8 0.4 0.7 0.3 -1.9 0.3 4.5 0.4 -4 0.3 3 0.3 -4.1 0.3 2.6 0.4 -1.4 0.3 2.6 0.3 -2.5 0.4 -1.2 0.3 2.7 0.3 -3.4 0.4 0.5 0.3 3.6 0.3 -5.4 0.3 5.5 0.4 -2.3 0.3 -1 0.3 2.5 0.4 0.9 0.3 -2.4 0.3 1 0.4 2.1 0.3 0 0.3 -1.5 0.3 -1.3 0.4 -0.2 0.3 0.9 0.3 2.6 0.4 -0.1 0.3 -0.4 0.3 2.3 0.4 -3.2 0.3 -0.1 0.3 0.1 0.3 4.6 0.4 -7.7 0.3 4.7 0.3 0.4 0.4 -0.7 0.3 4.5 0.3 -2.2 0.4 -0.7 0.3 -3.2 0.3 2.8 0.3 -1.6 0.4 0.9 0.3 0.4 0.3 -1.3 0.4 2.2 0.3 2 0.3 -1.1 0.4 -1.5 0.3 -4.1 0.3 5.9 0.3 0 0.4 -2.4 0.3 -0.5 0.3 2.2 0.4 -2.7 0.3 3.1 0.3 -3.6 0.4 0.3 0.3 1.8 0.3 -2.8 0.3 2.7 0.4 1 0.3 -3.5 0.3 4.2 0.4 -2.9 0.3 2 0.3 -0.7 0.4 -1.4 0.3 -0.2 0.3 -2.4 0.3 1.9 0.4 -0.3 0.3 4.5 0.3 -1.3 0.4 -4.7 0.3 4.1 0.3 -1.2 0.4 -1.3 0.3 1.5 0.3 0.5 0.3 -2.7 0.4 0.4 0.3 0.8 0.3 -2.3 0.4 2.2 0.3 -0.6 0.3 -1.3 0.4 -0.4 0.3 2.2 0.3 1.1 0.3 -1.2 0.4 -2.5 0.3 3.2 0.3 -1.3 0.4 0.8 0.3 1 0.3 -4.2 0.4 1.5 0.3 -1 0.3 -0.7 0.3 5.8 0.4 -2.2 0.3 -5.6 0.3 4.4 0.4 -2.1 0.3 3.5 0.3 -2.2 0.4 -0.6 0.3 0.6 0.3 0.5 0.3 -0.7 0.4 -0.6 0.3 0.2 0.3 1.3 0.4 -3.3 0.3 2.3 0.3 -0.2 0.4 -0.7 0.3 2.5 0.3 -4.1 0.3 1.9 0.4 -1 0.3 2.9 0.3 -2 0.4 1.1 0.3 0.7 0.3 -4 0.4 4.2 0.3 -2.4 0.3 1 0.3 0.4 0.4 1.9 0.3 -0.1 0.3 2.1 0.4 -3.1 0.3 -1.3 0.3 0 0.4 2.4 0.3 2 0.3 -2.5 0.3 -1.6 0.4 1.8 0.3 0.1 0.3 -0.2 0.4 -1.2 0.3 -3 0.3 4 0.4 3.1 0.3 -1.2 0.3 -4 0.3 4.2 0.4 -2.9 0.3 7 0.3 -2.8 0.4 -2.1 0.3 3.7 0.3 -2.4 0.4 2.5 0.3 -0.6 0.3 -1.9 0.3 3.4 0.4 -3.3 0.3 4.9 0.3 -2.1 0.4 -1.9 0.3 -1.3 0.3 6.2 0.4 -0.2 0.3 -4.7 0.3 5.2 0.3 -2.5 0.4 -0.6 0.3 0.3 0.3 -0.3 0.4 3.1 0.3 -2.2 0.3 -3.4 0.4 6.9 0.3 -2 0.3 -3.4 0.3 1.3 0.4 -0.9 0.3 1.7 0.3 0.7 0.4 -0.3 0.3 -1.4 0.3 -0.3 0.4 2.9 0.3 -1.6 0.3 4.1 0.3 -5.2 0.4 2.8 0.3 -1.2 0.3 -1.4 0.4 3.7 0.3 -2.1 0.3 -1.6 0.4 1 0.3 2.3 0.3 -3.8 0.3 4.5 0.4 -1.1 0.3 -1.6 0.3 2.8 0.4 0.7 0.3 -1.9 0.3 -0.7 0.4 2.9 0.3 -0.6 0.3 -4.1 0.3 1.3 0.4 0 0.3 -0.3 0.3 -1.9 0.4 4.1 0.3 -1.4 0.3 0.1 0.4 2.2 0.3 -3.4 0.3 0.9 0.3 0.6 0.4 -1.2 0.3 0.5 0.3 1.5 0.4 -1.3 0.3 2.3 0.3 -3.6 0.4 1.6 0.3 -2.7 0.3 2.2 0.3 -1 0.4 3.5 0.3 -1 0.3 -0.4 0.4 2.2 0.3 -0.6 0.3 -1.3 0.4 -2.4 0.3 -1.3 0.3 2.4 0.3 -0.5 0.4 -0.5 0.3 0.6 0.3 -2.3 0.4 5.3 0.3 -4.5 0.3 0.7 0.4 2.1 0.3 -3.8 0.3 4.2 0.3 -0.1 0.4 -2.2 0.3 -1.4 0.3 0.9 0.4 -2.5 0.3 5.4 0.3 -2.4 0.4 -1.5 0.3 -0.5 0.3 2.5 0.3 1.5 0.4 -5 0.3 1.1 0.3 -2.2 0.4 4.2 0.3 -1 0.3 3.6 0.4 -4.3 0.3 -0.7 0.3 -0.5 0.3 2.8 0.4 -4.6 0.3 4.3 0.3 -1 0.4 -1.4 0.3 -0.8 0.3 3.6 0.4 1.4 0.3 -4.3 0.3 1.8 0.3 2.2 0.4 -4.4 0.3 0.6 0.3 -1.8 0.4 1.9 0.3 0.1 0.3 -0.6 0.4 -0.6 0.3 -1.6 0.3 0.4 0.3 0.6 0.4 3 0.3 -2.1 0.3 -0.7 0.4 2.8 0.3 -0.2 0.3 -2.4 0.4 0.2 0.3 2.4 0.3 -0.5 0.3 -2.2 0.4 2 0.3 -0.5 0.3 2.2 0.4 -3.7 0.3 3.3 0.3 -0.8 0.4 -2.6 0.3 3.8 0.3 -0.2 0.3 -4 0.4 6.1 0.3 -5.7 0.3 0.5 0.4 1.1 0.3 2.1 0.3 -0.3 0.4 -1.2 0.3 2.7 0.3 -1.7 0.3 1.9 0.4 2.7 0.3 -4.8 0.3 -4.9 0.4 3.9 0.3 -1.1 0.3 2.2 0.4 0.1 0.3 -2.4 0.3 0.2 0.3 1.7 0.4 0.2 0.3 -4.3 0.3 6.5 0.4 -1.6 0.3 0 0.3 0.6 0.4 -2.3 0.3 1.9 0.3 2 0.3 0.2 0.4 -1 0.3 -1.3 0.3 -0.8 0.4 3.8 0.3 -1.3 0.3 -1.5 0.4 -3 0.3 2.4 0.3 -1.8 0.3 5.7 0.4 -1.8 0.3 -1.5 0.3 0.9 0.4 5.1 0.3 -2.3 0.3 -4.3 0.4 2.2 0.3 -1.8 0.3 -0.8 0.3 3.4 0.4 3.9 0.3 -1.4 0.3 -2.5 0.4 -0.7 0.3 1.1 0.3 1.5 0.4 -4.3 0.3 -0.6 0.3 6.5 0.3 -2.7 0.4 2.3 0.3 -2.3 0.3 2.2 0.4 -3.6 0.3 2 0.3 1.8 0.4 -0.8 0.3 -2.5 0.3 2.3 0.3 -2.6 0.4 -1.2 0.3 3.3 0.3 1.6 0.4 -0.9 0.3 -3.6 0.3 3.7 0.4 -0.3 0.3 -1.9 0.3 -3.4 0.3 6 0.4 -0.2 0.3 -0.7 0.3 -3.7 0.4 0.4 0.3 4.3 0.3 -0.3 0.4 -0.5 0.3 -1.3 0.3 1.1 0.3 -1.5 0.4 0.4 0.3 -1 0.3 1.9 0.4 -1.1 0.3 2.3 0.3 -0.4 0.4 -2.6 0.3 4.5 0.3 -5 0.3 2.6 0.4 1.1 0.3 0.3 0.3 -5.9 0.4 5.5 0.3 0.3 0.3 0.4 0.4 -6.3 0.3 2.7 0.3 0.9 0.3 -0.6 0.4 3.1 0.3 -3.5 0.3 3.2 0.4 -1.1 0.3 -3.5 0.3 0.8 0.4 0.9 0.3 0.9 0.3 1.6 0.3 -2.1 0.4 1.9 0.3 -4.3 0.3 -2.6 0.4 4.7 0.3 1.3 0.3 -1.4 0.4 -1.1 0.3 2.4 0.3 2.6 0.3 -3.6 0.4 -1.1 0.3 -0.2 0.3 4.8 0.4 -3.5 0.3 1.1 0.3 1 0.4 -0.3 0.3 -3.5 0.3 3.2 0.3 -0.2 0.4 -0.7 0.3 0.9 0.3 -2.8 0.4 0.7 0.3 -0.8 0.3 2.2 0.4 -2.6 0.3 1.8 0.3 -2.7 0.3 1.6 0.4 -0.5 0.3 0.3 0.3 0.3 0.4 -0.6 0.3 -0.2 0.3 -3.4 0.4 5.6 0.3 -3.2 0.3 0.5 0.3 -1.1 0.4 3.1 0.3 -3.5 0.3 2.4 0.4 1.1 0.3 0.7 0.3 -1 0.4 -1.2 0.3 -3.4 0.3 4.3 0.3 -0.3 0.4 -0.9 0.3 -0.2 0.3 -1.6 0.4 -1.3 0.3 2.6 0.3 0 0.4 -4.4 0.3 3.2 0.3 -1.5 0.3 0.7 0.4 -1.4 0.3 1.1 0.3 -0.6 0.4 -0.6 0.3 -4.4 0.3 3.4 0.4 -1.8 0.3 -2.4 0.3 2.6 0.3 -4 0.4 3.4 0.3 0.8 0.3 -4.2 0.4 1.8 0.3 -1.3 0.3 -0.3 0.4 -3.7 0.3 2 0.3 -1.6 0.3 -0.3 0.4 -1.9 0.3 0.4 0.3 -1.9 0.4 0.1 0.3 0.8 0.3 -2.8 0.4 1.1 0.3 -2 0.3 0.2 0.3 -2.7 0.4 2.4 0.3 0.7 0.3 -3.3 0.4 1.5 0.3 -1.2 0.3 -3.8 0.4 2.8 0.3 1.7 0.3 -4.4 0.3 -3.3 0.4 3.8 0.3 -2.3 0.3 5.1 0.4 -4.8 0.3 -0.3 0.3 -1.9 0.4 1.6 0.3 -2.3 0.3 -1.3 0.3 1.8 0.4 -2.2 0.3 5 0.3 -6.6 0.4 2.4 0.3 -1.9 0.3 -2.1 0.4 7.8 0.3 -10.4 0.3 9.6 0.3 -8.1 0.4 4.2 0.3 6.1 0.3 -12.2 0.4 2.3 0.3 7.5 0.3 -2.8 0.4 -1.5 0.3 1.6 0.3 -2 0.3 3.1 0.4 3.8 0.3 -4.4 0.3 1.6 0.4 3 0.3 2.3 0.3 -6.5 0.4 2.6 0.3 -2 0.3 0.1 0.3 0.9 0.4 -0.3 0.3 -2.3 0.3 -0.1 0.4 3.4 0.3 2.3 0.3 2.8 0.4 -3.3 0.3 1.3 0.3 2.2 0.3 0.7 0.4 -1.2 0.3 0.7 0.3 4.2 0.4 -3.6 0.3 0.2 0.3 -1.5 0.4 4.4 0.3 -0.7 0.3 4.6 0.3 -3.6 0.4 2.7 0.3 0.7 0.3 1.9 0.4 -5 0.3 5.8 0.3 -2.3 0.4 0.3 0.3 0.2 0.3 0.4 0.3 0.6 0.4 -2.9 0.3 5.5 0.3 -0.3 0.4 -1.2 0.3 2.1 0.3 4.5 0.4 -2.8 0.3 -0.8 0.3 4.1 0.3 -3.8 0.4 1.6 0.3 -0.3 0.3 1 0.4 2.1 0.3 0.1 0.3 -2 0.4 1.4 0.3 0.8 0.3 -0.5 0.3 1 0.4 -0.8 0.3 0.4 0.3 1.7 0.4 -1.5 0.3 2.8 0.3 -0.7 0.4 -0.9 0.3 0.8 0.3 0.5 0.3 0.8 0.4 0.7 0.3 -0.3 0.3 -1 0.4 4.1 0.3 -0.8 0.3 -1.3 0.4 1.5 0.3 -1.1 0.3 -1 0.3 0.6 0.4 4.5 0.3 -2.9 0.3 0.1 0.4 -2.5 0.3 1.7 0.3 2.9 0.4 -3.2 0.3 1.1 0.3 0.4 0.3 -1.1 0.4 1.6 0.3 -2.3 0.3 0.4 0.4 -1.9 0.3 5.7 0.3 -4.1 0.4 -0.4 0.3 2.3 0.3 -3.3 0.3 0.8 0.4 -1.3 0.3 1.4 0.3 -0.7 0.4 1.6 0.3 -1.2 0.3 -0.8 0.4 0.5 0.3 0.3 0.3 -0.6 0.3 2.5 0.4 -0.5 0.3 -0.9 0.3 -2.3 0.4 3 0.3 -3.2 0.3 2.6 0.4 -0.3 0.3 -1.1 0.3 -0.5 0.3 0.2 0.4 4.8 0.3 -4.1 0.3 0 0.4 2 0.3 -1 0.3 1.1 0.4 -4.1 0.3 0.2 0.3 7.7 0.3 -6 0.4 -0.6 0.3 0.8 0.3 1.3 0.4 -3.9 0.3 2.5 0.3 -0.6 0.4 1.1 0.3 -1 0.3 -1.3 0.3 -0.7 0.4 -2.9 0.3 6 0.3 -4.5 0.4 1.8 0.3 3.6 0.3 -3.8 0.4 1.7 0.3 -1.6 0.3 1.6 0.3 -1.3 0.4 -1.1 0.3 3.3 0.3 -3.1 0.4 -2.1 0.3 1.8 0.3 1.5 0.4 -3.1 0.3 3.4 0.3 -0.1 0.3 2.4 0.4 -5.2 0.3 2.4 0.3 -4.5 0.4 2.3 0.3 0.9 0.3 0.5 0.4 -0.9 0.3 -0.2 0.3 -1 0.3 0.3 0.4 1.4 0.3 0.4 0.3 0.1 0.4 0.7 0.3 0.3 0.3 -5.7 0.4 2.4 0.3 0.6 0.3 -0.9 0.3 3.2 0.4 -0.6 0.3 -1.7 0.3 0.4 0.4 2.1 0.3 -3.1 0.3 0 0.4 2.4 0.3 -0.9 0.3 1.8 0.3 -2.1 0.4 0.7 0.3 -2.5 0.3 -0.8 0.4 1.8 0.3 -5.2 0.3 5.9 0.4 1.1 0.3 -1.8 0.3 -0.6 0.3 2.5 0.4 -2.2 0.3 1.9 0.3 2.4 0.4 -2.9 0.3 0.4 0.3 -0.9 0.4 -0.5 0.3 0 0.3 -0.4 0.3 1.9 0.4 -5.2 0.3 2.6 0.3 1.7 0.4 -2.9 0.3 1.4 0.3 -1.2 0.4 2.2 0.3 0.8 0.3 1.2 0.3 -1.9 0.4 -2.4 0.3 1.9 0.3 0.6 0.4 1.6 0.3 -7 0.3 4.9 0.4 -4.3 0.3 5 0.3 -0.6 0.3 0.1 0.4 0.8 0.3 -1 0.3 -2.1 0.4 2 0.3 1.6 0.3 -2.5 0.4 0.2 0.3 -2.4 0.3 4.6 0.3 -3.2 0.4 -0.5 0.3 0.6 0.3 -0.8 0.4 1.2 0.3 3 0.3 -1 0.4 1.3 0.3 0.1 0.3 -4.6 0.3 2.7 0.4 2 0.3 1.6 0.3 -7.2 0.4 0.1 0.3 3.7 0.3 -1.5 0.4 -1.2 0.3 2.7 0.3 -2.2 0.3 -2.8 0.4 4.4 0.3 0.4 0.3 1 0.4 0.7 0.3 -1.4 0.3 -0.7 0.4 -0.7 0.3 -1.8 0.3 2.4 0.3 2.8 0.4 -0.6 0.3 2.7 0.3 -4 0.4 -3 0.3 5 0.3 0.5 0.4 -4 0.3 -0.8 0.3 3.4 0.3 1.1 0.4 -3.3 0.3 1.5 0.3 -0.7 0.4 -0.6 0.3 -0.2 0.3 2.8 0.4 -0.8 0.3 -0.4 0.3 -3.4 0.3 8 0.4 -4.7 0.3 1.5 0.3 -1.6 0.4 2.8 0.3 -3.2 0.3 3 0.4 -0.4 0.3 2.1 0.3 -3.4 0.3 0.9 0.4 0.8 0.3 4.2 0.3 -6.1 0.4 3.2 0.3 -1.5 0.3 1.7 0.4 0.7 0.3 -0.8 0.3 0.3 0.3 0.1 0.4 -1.4 0.3 0.7 0.3 -2.4 0.4 2.3 0.3 -0.7 0.3 0.9 0.4 1.7 0.3 -0.6 0.3 0.1 0.3 1.1 0.4 -6 0.3 4.8 0.3 -0.8 0.4 -0.1 0.3 -2.1 0.3 3.2 0.4 1 0.3 -0.2 0.3 -1.9 0.3 1.2 0.4 0.5 0.3 1.5 0.3 -1 0.4 -1.9 0.3 -0.1 0.3 0.1 0.4 0 0.3 -1.2 0.3 2.1 0.3 -2.5 0.4 -0.3 0.3 2 0.3 -1.6 0.4 0.5 0.3 -3.2 0.3 5 0.4 -1.5 0.3 -0.2 0.3 1 0.3 -0.5 0.4 -1.6 0.3 4.7 0.3 -4.4 0.4 2.5 0.3 1.5 0.3 -4.4 0.4 1.2 0.3 -1.6 0.3 3.3 0.3 -2.5 0.4 -1.4 0.3 4.2 0.3 -0.7 0.4 -3.3 0.3 3.6 0.3 -1.8 0.4 4.5 0.3 -1.8 0.3 -4.1 0.3 0.4 0.4 -1.1 0.3 1.8 0.3 -0.2 0.4 1.2 0.3 -1.3 0.3 -2.8 0.4 1.1 0.3 4 0.3 -0.5 0.3 -2.4 0.4 0 0.3 -0.1 0.3 0.3 0.4 -3.2 0.3 4.6 0.3 -2.8 0.4 1.4 0.3 -4.9 0.3 5 0.3 1.9 0.4 -6.5 0.3 6.8 0.3 -2 0.4 -2.3 0.3 -1.6 0.3 5 0.4 -1.8 0.3 0.6 0.3 -1.7 0.3 -1 0.4 3 0.3 -3.5 0.3 3.3 0.4 -4.8 0.3 1.3 0.3 -1.1 0.4 5.1 0.3 -5.8 0.3 1 0.3 3.3 0.4 -0.9 0.3 3.6 0.3 -0.8 0.4 -2.3 0.3 0 0.3 -4.8 0.4 1.7 0.3 1 0.3 0.2 0.3 -2.4 0.4 0.8 0.3 0.1 0.3 3.6 0.4 -1.3 0.3 -1.5 0.3 0 0.4 1.1 0.3 -1.9 0.3 0.8 0.3 -2.9 0.4 4.6 0.3 0.6 0.3 -1.2 0.4 0.2 0.3 -0.2 0.3 3.3 0.4 -3.6 0.3 -2.9 0.3 0.5 0.3 3.4 0.4 0.8 0.3 -0.6 0.3 0.2 0.4 -1.3 0.3 -3.1 0.3 1.5 0.4 -2.1 0.3 2.8 0.3 -1.8 0.3 2.8 0.4 -0.5 0.3 -3.3 0.3 5.2 0.4 0.1 0.3 -4.1 0.3 3 0.4 1.2 0.3 -1.9 0.3 2.2 0.3 -1.2 0.4 1.8 0.3 -1.6 0.3 -0.6 0.4 1.3 0.3 0.6 0.3 -0.9 0.4 -1.3 0.3 -0.6 0.3 0.9 0.3 -0.3 0.4 1.5 0.3 0 0.3 -0.4 0.4 0.2 0.3 0.4 0.3 2.7 0.4 -0.6 0.3 -3.3 0.3 2 0.3 -1.4 0.4 0.5 0.3 -0.2 0.3 -0.6 0.4 -1.3 0.3 -2 0.3 5 0.4 1.9 0.3 -3.8 0.3 2.6 0.3 -1.5 0.4 1.2 0.3 -1.9 0.3 1.1 0.4 0.3 0.3 -4.1 0.3 4.7 0.4 -0.6 0.3 -4.2 0.3 5.7 0.3 -1.2 0.4 0.5 0.3 0.3 0.3 -1.4 0.4 -1.1 0.3 1.2 0.3 0 0.4 4.8 0.3 -0.6 0.3 -4.2 0.3 0.2 0.4 1.3 0.3 0.5 0.3 -2.3 0.4 -0.5 0.3 5.3 0.3 -1.5 0.4 -4.7 0.3 -0.4 0.3 1.7 0.3 2 0.4 0.6 0.3 -1.6 0.3 -2.3 0.4 3.3 0.3 0.8 0.3 -1.1 0.4 -0.9 0.3 2 0.3 -1.1 0.3 -1.9 0.4 2.2 0.3 -2.5 0.3 4.1 0.4 -0.9 0.3 -2.6 0.3 2.2 0.4 1.9 0.3 -6.1 0.3 3.6 0.3 3.2 0.4 -5.7 0.3 2.5 0.3 -2.2 0.4 2.5 0.3 -4.2 0.3 1.4 0.4 2 0.3 1.2 0.3 0.5 0.3 0.1 0.4 1.3 0.3 -0.8 0.3 0.1 0.4 -3 0.3 1.5 0.3 6 0.4 -1.7 0.3 -2.5 0.3 -0.1 0.3 0.4 0.4 -2.4 0.3 4.2 0.3 -4.1 0.4 0.5 0.3 4.1 0.3 -7.5 0.4 4.3 0.3 -3.6 0.3 1.9 0.3 1 0.4 -0.4 0.3 1 0.3 -1.7 0.4 1.3 0.3 -1.9 0.3 1.4 0.4 -1.7 0.3 3.7 0.3 -3.4 0.3 3.5 0.4 -1.8 0.3 0.2 0.3 2.7 0.4 -1.8 0.3 -3.5 0.3 4.3 0.4 -5.9 0.3 5.6 0.3 -1.1 0.3 -1.7 0.4 2.7 0.3 -0.6 0.3 4 0.4 -4.1 0.3 4.2 0.3 -0.9 0.4 -3.4 0.3 -0.3 0.3 3.7 0.3 -2.4 0.4 0.6 0.3 -0.6 0.3 -1.6 0.4 1.5 0.3 -0.9 0.3 -0.9 0.4 2.1 0.3 3.6 0.3 -0.3 0.3 -2.7 0.4 0.4 0.3 0.6 0.3 1.5 0.4 -1.7 0.3 -1.3 0.3 0.2 0.4 2.6 0.3 2.5 0.3 -5.4 0.3 -2.4 0.4 4.9 0.3 -1.5 0.3 0.4 0.4 1.8 0.3 -1.9 0.3 -2.4 0.4 -1 0.3 3.2 0.3 -1.9 0.3 2.4 0.4 -2.7 0.3 1.6 0.3 -2 0.4 1.9 0.3 -0.2 0.3 1.7 0.4 1.2 0.3 -2.6 0.3 -1.3 0.3 4.8 0.4 -2.8 0.3 0.3 0.3 0 0.4 1.3 0.3 -0.8 0.3 -0.7 0.4 0.1 0.3 -2.9 0.3 0.4 0.3 0.7 0.4 0.3 0.3 -0.2 0.3 0.4 0.4 -0.6 0.3 -0.9 0.3 -2.2 0.4 4.2 0.3 -0.5 0.3 -2.7 0.3 2.4 0.4 -0.3 0.3 -0.7 0.3 -3.5 0.4 1.1 0.3 0.9 0.3 3.9 0.4 -4.5 0.3 0.8 0.3 -1.4 0.3 1 0.4 1.5 0.3 -4.5 0.3 -1.5 0.4 6.3 0.3 -1.2 0.3 -1.2 0.4 2.8 0.3 0 0.3 -5.7 0.3 3.5 0.4 2.3 0.3 -3.3 0.3 0.6 0.4 2.3 0.3 -2.3 0.3 -1.8 0.4 0.9 0.3 -1.3 0.3 3.5 0.3 -4.3 0.4 5 0.3 -5 0.3 3.1 0.4 -2.8 0.3 2.1 0.3 2.4 0.4 0.2 0.3 0.3 0.3 -2.7 0.3 0.3 0.4 0.2 0.3 0.7 0.3 -2 0.4 2.8 0.3 -1.5 0.3 1.5 0.4 -1.3 0.3 0.4 0.3 -2.8 0.3 0.6 0.4 -1.7 0.3 1.9 0.3 0.2 0.4 1.9 0.3 -4.1 0.3 8.6 0.4 -6.4 0.3 2.6 0.3 -0.5 0.3 -6.8 0.4 4.3 0.3 3.3 0.3 -7.5 0.4 6.1 0.3 -3.2 0.3 0.9 0.4 1.3 0.3 -4 0.3 3.9 0.3 -1.6 0.4 -0.2 0.3 2.8 0.3 5.4 0.4 -6 0.3 0.4 0.3 -1.1 0.4 -1.2 0.3 1.9 0.3 2.4 0.3 -2.4 0.4 1.3 0.3 -2 0.3 5.2 0.4 -7.8 0.3 4.3 0.3 0 0.4 -0.4 0.3 -2.6 0.3 0.1 0.3 1.8 0.4 0.7 0.3 -2.4 0.3 0.4 0.4 3.1 0.3 0.9 0.3 -2.8 0.4 -0.2 0.3 0.1 0.3 5.9 0.3 -3.5 0.4 -0.9 0.3 2 0.3 2.5 0.4 -2 0.3 -4.6 0.3 2.5 0.4 -0.4 0.3 0.2 0.3 -1.5 0.3 1.6 0.4 -1.2 0.3 2.7 0.3 -0.5 0.4 -2.4 0.3 -0.4 0.3 2.3 0.4 2.1 0.3 -0.2 0.3 -0.8 0.3 -5.4 0.4 5 0.3 -0.3 0.3 0.9 0.4 -1.4 0.3 1.5 0.3 -0.2 0.4 5.8 0.3 -3.2 0.3 -1.3 0.3 0.4 0.4 0.1 0.3 0.6 0.3 -0.8 0.4 0.8 0.3 1.8 0.3 -0.2 0.4 -0.6 0.3 1.7 0.3 -1.6 0.3 -1.8 0.4 -1.1 0.3 1.8 0.3 1.1 0.4 0.8 0.3 1.1 0.3 -2.5 0.4 -0.3 0.3 2.5 0.3 0.7 0.3 -2.5 0.4 1.3 0.3 1.7 0.3 -1.7 0.4 -0.5 0.3 -3.1 0.3 5.3 0.4 -1 0.3 -0.8 0.3 -0.8 0.3 -1.2 0.4 1.8 0.3 0 0.3 1.9 0.4 -3.5 0.3 4.1 0.3 -2.1 0.4 1.8 0.3 -3.3 0.3 2.1 0.3 1.3 0.4 -1.6 0.3 -2.4 0.3 1.8 0.4 1.3 0.3 -2.9 0.3 0 0.4 2.5 0.3 -1.7 0.3 2.5 0.3 -2.8 0.4 -1 0.3 1.6 0.3 3.5 0.4 -3.5 0.3 1.3 0.3 0.4 0.4 -1.8 0.3 3.1 0.3 -1.3 0.3 0.4 0.4 -3.2 0.3 -0.1 0.3 -1.5 0.4 3.9 0.3 0 0.3 1.4 0.4 1.2 0.3 -2.6 0.3 0 0.3 1.1 0.4 1.6 0.3 -3.5 0.3 2.2 0.4 -1.3 0.3 -0.1 0.3 1.7 0.4 -2.4 0.3 -0.4 0.3 2.6 0.3 -1 0.4 -0.4 0.3 0.2 0.3 1 0.4 -1.3 0.3 1.7 0.3 -0.5 0.4 1.5 0.3 -0.3 0.3 -0.6 0.3 -1.6 0.4 0.5 0.3 -1 0.3 5.1 0.4 -4.6 0.3 1.2 0.3 1.2 0.4 -4.1 0.3 0.8 0.3 0.6 0.3 -0.9 0.4 -0.4 0.3 1.1 0.3 2.7 0.4 -0.9 0.3 -1 0.3 0 0.4 -2.6 0.3 3.5 0.3 -0.4 0.3 -2.2 0.4 1.9 0.3 -0.6 0.3 -0.5 0.4 -0.8 0.3 0.5 0.3 -0.4 0.4 2 0.3 -0.1 0.3 -0.1 0.3 -0.8 0.4 -0.3 0.3 3.6 0.3 -5.9 0.4 4.6 0.3 -1.3 0.3 -0.4 0.4 -0.9 0.3 0.4 0.3 -1.5 0.3 -0.3 0.4 1.9 0.3 -2.4 0.3 3.8 0.4 0.4 0.3 -6.9 0.3 2.8 0.4 2.8 0.3 -0.1 0.3 -0.2 0.3 0.4 0.4 0.5 0.3 0.2 0.3 1.4 0.4 -2.7 0.3 1.2 0.3 -3.8 0.4 2.3 0.3 -1.7 0.3 4 0.3 1.4 0.4 -2.7 0.3 -2.9 0.3 1.8 0.4 0.3 0.3 0.2 0.3 1.4 0.4 -0.3 0.3 -5.5 0.3 6.2 0.3 -2.9 0.4 -0.1 0.3 3 0.3 -2.5 0.4 -1.7 0.3 0 0.3 2.2 0.4 1.3 0.3 0.9 0.3 -2.6 0.3 -0.4 0.4 3.2 0.3 -3.2 0.3 2.9 0.4 -1.8 0.3 0 0.3 -0.7 0.4 0.8 0.3 -1.1 0.3 -0.4 0.3 0.9 0.4 -0.8 0.3 1.5 0.3 -0.3 0.4 -0.5 0.3 0.1 0.3 0 0.4 3 0.3 -2.7 0.3 -0.8 0.3 0.4 0.4 1.5 0.3 -1.3 0.3 0.1 0.4 -0.1 0.3 0.6 0.3 0.4 0.4 0.1 0.3 -3.1 0.3 0.9 0.3 -2.3 0.4 5.2 0.3 0.4 0.3 0.4 0.4 -1.7 0.3 1.5 0.3 -1.8 0.4 -0.1 0.3 -2 0.3 1.1 0.3 0.3 0.4 2.3 0.3 1.1 0.3 -3.1 0.4 1.3 0.3 -0.1 0.3 -1.5 0.4 -1.4 0.3 1.5 0.3 -1 0.3 1.7 0.4 0.3 0.3 -0.1 0.3 0.1 0.4 1 0.3 -2.1 0.3 2.7 0.4 -3.7 0.3 2.6 0.3 0.5 0.3 -1.7 0.4 -1.1 0.3 3.3 0.3 -1.9 0.4 2.1 0.3 0 0.3 -1.1 0.4 0.1 0.3 1.4 0.3 -0.8 0.3 -1.8 0.4 1.6 0.3 0.6 0.3 -0.5 0.4 0 0.3 -0.4 0.3 0.1 0.4 -1.1 0.3 -0.6 0.3 3.6 0.3 -2.4 0.4 1.3 0.3 -2.4 0.3 2.4 0.4 -1.3 0.3 5.3 0.3 -5.5 0.4 0.2 0.3 2.7 0.3 0.3 0.3 -4.4 0.4 3.3 0.3 0.9 0.3 -2.8 0.4 2.7 0.3 -1.6 0.3 -0.5 0.4 0.9 0.3 -0.1 0.3 -1.1 0.3 4.8 0.4 -3.5 0.3 -0.3 0.3 2.2 0.4 -1.2 0.3 2 0.3 -2.1 0.4 0.9 0.3 -0.3 0.3 0.2 0.3 -0.4 0.4 0.2 0.3 2.3 0.3 -3 0.4 0.3 0.3 0.3 0.3 1.2 0.4 -0.2 0.3 0.8 0.3 -2.9 0.3 2.1 0.4 -0.5 0.3 -0.1 0.3 0.6 0.4 -2.6 0.3 2.8 0.3 -0.1 0.4 -1.9 0.3 1.7 0.3 2 0.3 -2.3 0.4 1.2 0.3 -1 0.3 -0.7 0.4 -0.1 0.3 0.6 0.3 2.2 0.4 -0.6 0.3 -1.9 0.3 2.1 0.3 -1.4 0.4 -0.7 0.3 1.4 0.3 -1.7 0.4 -0.8 0.3 3.5 0.3 -3.8 0.4 2.9 0.3 -2.6 0.3 1.9 0.3 -0.3 0.4 -0.3 0.3 -2.1 0.3 2.5 0.4 0.1 0.3 -1.1 0.3 1 0.4 1.3 0.3 -2.1 0.3 1.2 0.3 -1.8 0.4 1.9 0.3 0.3 0.3 2.2 0.4 -1.9 0.3 -0.6 0.3 1.2 0.4 -3.1 0.3 2.6 0.3 -2.1 0.3 -0.1 0.4 2.1 0.3 -1.1 0.3 1.4 0.4 -3.5 0.3 2.1 0.3 -1 0.4 0.3 0.3 -2.1 0.3 3.6 0.3 -1 0.4 -1.5 0.3 -0.5 0.3 0.6 0.4 2.8 0.3 -1.9 0.3 -0.3 0.4 1 0.3 -0.6 0.3 0.2 0.3 0.7 0.4 -0.6 0.3 0.7 0.3 -2.7 0.4 1.6 0.3 -0.5 0.3 0.6 0.4 -0.2 0.3 -0.8 0.3 0.3 0.3 1.7 0.4 -2 0.3 -0.9 0.3 2.4 0.4 0.5 0.3 -1.6 0.3 0.5 0.4 -1.3 0.3 0.8 0.3 1.7 0.3 -0.4 0.4 -0.8 0.3 -0.6 0.3 -1.7 0.4 2.5 0.3 0.2 0.3 0.8 0.4 1.2 0.3 -2.1 0.3 0.7 0.3 -2.6 0.4 3 0.3 -0.5 0.3 0.7 0.4 -0.9 0.3 -0.3 0.3 1.3 0.4 -2.7 0.3 1.7 0.3 0.6 0.3 -2.4 0.4 -0.5 0.3 2.1 0.3 -0.4 0.4 0.6 0.3 0.1 0.3 -1.8 0.4 1.4 0.3 1 0.3 -1.9 0.3 0.1 0.4 -1 0.3 2.5 0.3 1.4 0.4 -4.2 0.3 2.7 0.3 0.2 0.4 -1.8 0.3 0.2 0.3 -0.8 0.3 0.3 0.4 1.2 0.3 0.7 0.3 -0.7 0.4 0.9 0.3 -0.8 0.3 -1.7 0.4 3.3 0.3 -0.3 0.3 -2.4 0.3 3.2 0.4 -1.6 0.3 -0.5 0.3 2.3 0.4 -5.5 0.3 1.1 0.3 2.9 0.4 -1.2 0.3 -0.8 0.3 3.1 0.3 -1.3 0.4 -2.2 0.3 0.8 0.3 1.9 0.4 1.2 0.3 -4.8 0.3 2.9 0.4 -0.8 0.3 -1.7 0.3 2 0.3 -1.8 0.4 1.3 0.3 2.7 0.3 -1.3 0.4 0.3 0.3 -0.2 0.3 -0.3 0.4 0.8 0.3 -2.7 0.3 1 0.3 1.5 0.4 -1.9 0.3 0.4 0.3 2 0.4 0.4 0.3 -2.6 0.3 -0.3 0.4 1.8 0.3 -0.4 0.3 -1.2 0.3 1.6 0.4 0 0.3 -0.6 0.3 3.5 0.4 -1.9 0.3 -0.7 0.3 0.3 0.4 2.4 0.3 -2.3 0.3 -2.3 0.3 1.3 0.4 -0.3 0.3 -0.7 0.3 1 0.4 0 0.3 -0.4 0.3 -0.5 0.4 1.6 0.3 -3 0.3 3 0.3 -1 0.4 0.4 0.3 -3.3 0.3 5 0.4 -4.2 0.3 1.1 0.3 1.8 0.4 -1.5 0.3 0.3 0.3 -2.3 0.3 2.2 0.4 0.8 0.3 0.6 0.3 -1.2 0.4 0.7 0.3 0.2 0.3 -1.3 0.4 -0.1 0.3 3.3 0.3 -3.4 0.3 2.6 0.4 -1.5 0.3 1.8 0.3 -2.6 0.4 1.4 0.3 -0.2 0.3 -0.7 0.4 0.7 0.3 -1.3 0.3 0.8 0.3 -0.4 0.4 1.4 0.3 -1 0.3 -1.6 0.4 1.3 0.3 0.3 0.3 -1 0.4 2.8 0.3 -1.1 0.3 0.5 0.3 -2 0.4 0.5 0.3 1.7 0.3 -2.9 0.4 2.1 0.3 -0.3 0.3 -0.7 0.4 0.7 0.3 -1.4 0.3 1.6 0.3 -1.7 0.4 -0.1 0.3 3.2 0.3 -2.5 0.4 -1.7 0.3 3.7 0.3 -2.1 0.4 -3.3 0.3 4.2 0.3 1.2 0.3 -0.7 0.4 1.7 0.3 -2.2 0.3 0.8 0.4 -1.9 0.3 1.4 0.3 1.7 0.4 -1.3 0.3 -0.4 0.3 -2.5 0.3 1.9 0.4 -1.1 0.3 2.5 0.3 -1.8 0.4 1.3 0.3 -1.6 0.3 3.5 0.4 -3.7 0.3 1.6 0.3 3 0.3 -2.9 0.4 -1.3 0.3 1.8 0.3 0.4 0.4 -0.1 0.3 -3.4 0.3 2.6 0.4 -2.8 0.3 4.8 0.3 -2.1 0.3 -0.7 0.4 1.4 0.3 -0.2 0.3 -2 0.4 3.3 0.3 -2.2 0.3 -1.8 0.4 3.8 0.3 0.2 0.3 -0.4 0.3 -0.8 0.4 -1.7 0.3 2.2 0.3 1.1 0.4 -1.3 0.3 1 0.3 -2.9 0.4 2.2 0.3 -0.1 0.3 -2.9 0.3 -0.2 0.4 1.1 0.3 1 0.3 0.4 0.4 -0.8 0.3 0.2 0.3 0 0.4 0.2 0.3 0.6 0.3 -0.1 0.3 -0.6 0.4 0.4 0.3 -0.9 0.3 1.5 0.4 -1.5 0.3 2.5" stroke="#0000ff" stroke-width="3.3"/>
</g>
<g stroke="#1c1c1c" stroke-width="2.9" fill="none" stroke-linecap="round" stroke-linejoin="round">
<rect x="219.3" y="29.8" width="943.2" height="760.0"/>
<line x1="204.3" y1="790.0" x2="217.9" y2="790.0"/><line x1="211.8" y1="736.5" x2="217.9" y2="736.5"/><line x1="204.3" y1="682.9" x2="217.9" y2="682.9"/><line x1="211.8" y1="629.4" x2="217.9" y2="629.4"/><line x1="204.3" y1="575.9" x2="217.9" y2="575.9"/><line x1="211.8" y1="522.3" x2="217.9" y2="522.3"/><line x1="204.3" y1="468.8" x2="217.9" y2="468.8"/><line x1="211.8" y1="415.3" x2="217.9" y2="415.3"/><line x1="204.3" y1="361.7" x2="217.9" y2="361.7"/><line x1="211.8" y1="308.2" x2="217.9" y2="308.2"/><line x1="204.3" y1="254.6" x2="217.9" y2="254.6"/><line x1="211.8" y1="201.1" x2="217.9" y2="201.1"/><line x1="204.3" y1="147.6" x2="217.9" y2="147.6"/><line x1="211.8" y1="94.0" x2="217.9" y2="94.0"/><line x1="204.3" y1="40.5" x2="217.9" y2="40.5"/><line x1="219.3" y1="791.2" x2="219.3" y2="804.8"/><line x1="297.9" y1="791.2" x2="297.9" y2="797.3"/><line x1="376.4" y1="791.2" x2="376.4" y2="804.8"/><line x1="455.0" y1="791.2" x2="455.0" y2="797.3"/><line x1="533.5" y1="791.2" x2="533.5" y2="804.8"/><line x1="612.1" y1="791.2" x2="612.1" y2="797.3"/><line x1="690.7" y1="791.2" x2="690.7" y2="804.8"/><line x1="769.2" y1="791.2" x2="769.2" y2="797.3"/><line x1="847.8" y1="791.2" x2="847.8" y2="804.8"/><line x1="926.3" y1="791.2" x2="926.3" y2="797.3"/><line x1="1004.9" y1="791.2" x2="1004.9" y2="804.8"/><line x1="1083.4" y1="791.2" x2="1083.4" y2="797.3"/><line x1="1162.0" y1="791.2" x2="1162.0" y2="804.8"/>
</g>
<text transform="translate(169.70,802.26) scale(0.9900,1)" style="font-size:43.60px">0</text>
<text transform="translate(121.79,695.19) scale(0.9900,1)" style="font-size:43.60px">000</text>
<path transform="translate(97.33,695.23) scale(43.192,44.300)" d="M0.43 -0.694L0.315 -0.694Q0.26 -0.585 0.1 -0.525L0.1 -0.415Q0.21 -0.45 0.29 -0.51L0.29 0L0.43 0Z"/>
<text transform="translate(97.76,588.12) scale(0.9900,1)" style="font-size:43.60px">2000</text>
<text transform="translate(97.76,481.05) scale(0.9900,1)" style="font-size:43.60px">3000</text>
<text transform="translate(97.76,373.98) scale(0.9900,1)" style="font-size:43.60px">4000</text>
<text transform="translate(97.76,266.91) scale(0.9900,1)" style="font-size:43.60px">5000</text>
<text transform="translate(97.76,159.84) scale(0.9900,1)" style="font-size:43.60px">6000</text>
<text transform="translate(97.76,52.77) scale(0.9900,1)" style="font-size:43.60px">7000</text>
<text transform="translate(195.19,848.06) scale(0.9900,1)" style="font-size:43.60px">20</text>
<text transform="translate(352.52,848.06) scale(0.9900,1)" style="font-size:43.60px">30</text>
<text transform="translate(509.78,848.06) scale(0.9900,1)" style="font-size:43.60px">40</text>
<text transform="translate(666.61,848.06) scale(0.9900,1)" style="font-size:43.60px">50</text>
<text transform="translate(823.58,848.06) scale(0.9900,1)" style="font-size:43.60px">60</text>
<text transform="translate(980.56,848.06) scale(0.9900,1)" style="font-size:43.60px">70</text>
<text transform="translate(1137.89,848.06) scale(0.9900,1)" style="font-size:43.60px">80</text>
<text transform="translate(298.16,633.19) scale(0.9323,1)" style="font-size:41.18px">0</text>
<path transform="translate(252.84,632.90) scale(39.673,40.900)" d="M0.43 -0.694L0.315 -0.694Q0.26 -0.585 0.1 -0.525L0.1 -0.415Q0.21 -0.45 0.29 -0.51L0.29 0L0.43 0Z"/>
<path transform="translate(274.54,632.90) scale(39.673,40.900)" d="M0.43 -0.694L0.315 -0.694Q0.26 -0.585 0.1 -0.525L0.1 -0.415Q0.21 -0.45 0.29 -0.51L0.29 0L0.43 0Z"/>
<rect x="303.4" y="569.7" width="11.2" height="5.8"/>
<path transform="translate(313.10,583.00) scale(39.758,41.200)" d="M0.43 -0.694L0.315 -0.694Q0.26 -0.585 0.1 -0.525L0.1 -0.415Q0.21 -0.45 0.29 -0.51L0.29 0L0.43 0Z"/>
<path transform="translate(335.20,583.00) scale(39.758,41.200)" d="M0.43 -0.694L0.315 -0.694Q0.26 -0.585 0.1 -0.525L0.1 -0.415Q0.21 -0.45 0.29 -0.51L0.29 0L0.43 0Z"/>
<path transform="translate(357.30,583.00) scale(39.758,41.200)" d="M0.43 -0.694L0.315 -0.694Q0.26 -0.585 0.1 -0.525L0.1 -0.415Q0.21 -0.45 0.29 -0.51L0.29 0L0.43 0Z"/>
<path transform="translate(413.29,590.60) scale(39.550,40.900)" d="M0.43 -0.694L0.315 -0.694Q0.26 -0.585 0.1 -0.525L0.1 -0.415Q0.21 -0.45 0.29 -0.51L0.29 0L0.43 0Z"/>
<path transform="translate(435.29,590.60) scale(39.550,40.900)" d="M0.43 -0.694L0.315 -0.694Q0.26 -0.585 0.1 -0.525L0.1 -0.415Q0.21 -0.45 0.29 -0.51L0.29 0L0.43 0Z"/>
<path transform="translate(457.29,590.60) scale(39.550,40.900)" d="M0.43 -0.694L0.315 -0.694Q0.26 -0.585 0.1 -0.525L0.1 -0.415Q0.21 -0.45 0.29 -0.51L0.29 0L0.43 0Z"/>
<text transform="translate(663.39,708.99) scale(0.9604,1)" style="font-size:41.04px">220</text>
<text transform="translate(923.92,172.30) scale(0.972,1)" style="font-size:41.4px">Hf<tspan style="font-size:23.9px" dy="13.7">0.60</tspan><tspan dy="-13.7">Si</tspan><tspan style="font-size:23.9px" dy="13.7">0.40</tspan><tspan dy="-13.7">O</tspan><tspan style="font-size:23.9px" dy="13.7">2</tspan></text>
<text transform="translate(922.72,272.80) scale(0.972,1)" style="font-size:41.4px">Hf<tspan style="font-size:23.9px" dy="13.7">0.70</tspan><tspan dy="-13.7">Si</tspan><tspan style="font-size:23.9px" dy="13.7">0.30</tspan><tspan dy="-13.7">O</tspan><tspan style="font-size:23.9px" dy="13.7">2</tspan></text>
<text transform="translate(924.22,365.30) scale(0.972,1)" style="font-size:41.4px">Hf<tspan style="font-size:23.9px" dy="13.7">0.80</tspan><tspan dy="-13.7">Si</tspan><tspan style="font-size:23.9px" dy="13.7">0.20</tspan><tspan dy="-13.7">O</tspan><tspan style="font-size:23.9px" dy="13.7">2</tspan></text>
<text transform="translate(924.22,527.40) scale(0.972,1)" style="font-size:41.4px">Hf<tspan style="font-size:23.9px" dy="13.7">0.90</tspan><tspan dy="-13.7">Si</tspan><tspan style="font-size:23.9px" dy="13.7">0.<tspan fill-opacity='0'>1</tspan>0</tspan><tspan dy="-13.7">O</tspan><tspan style="font-size:23.9px" dy="13.7">2</tspan></text>
<path transform="translate(1068.51,541.20) scale(23.231,23.900)" d="M0.43 -0.694L0.315 -0.694Q0.26 -0.585 0.1 -0.525L0.1 -0.415Q0.21 -0.45 0.29 -0.51L0.29 0L0.43 0Z"/>
<text transform="translate(925.66,748.1) scale(0.955,1)" style="font-size:41.4px">Pure HfO<tspan style="font-size:23.9px" dy="14.0">2</tspan></text>
<text transform="translate(556.71,916.50) scale(0.9586,1)" style="font-size:59.14px">2</text>
<text transform="translate(588.16,917.23) scale(1.1418,1)" style="font-size:57.04px;font-weight:normal;font-family:'Liberation Serif',serif">θ</text>
<text transform="translate(627.83,913.16) scale(1.1462,1)" style="font-size:57.79px;font-weight:normal;font-family:'Liberation Serif',serif">(</text>
<text transform="translate(647.76,911.52) scale(1.0659,1)" style="font-size:55.05px;font-weight:normal;font-family:'Liberation Serif',serif">°</text>
<text transform="translate(669.29,913.16) scale(1.1462,1)" style="font-size:57.79px;font-weight:normal;font-family:'Liberation Serif',serif">)</text>
<text transform="translate(64.1,654.50) rotate(-90) scale(0.9773,1)" style="font-size:58.3px">Intensity/arb.units</text>
</svg>
</body></html>
